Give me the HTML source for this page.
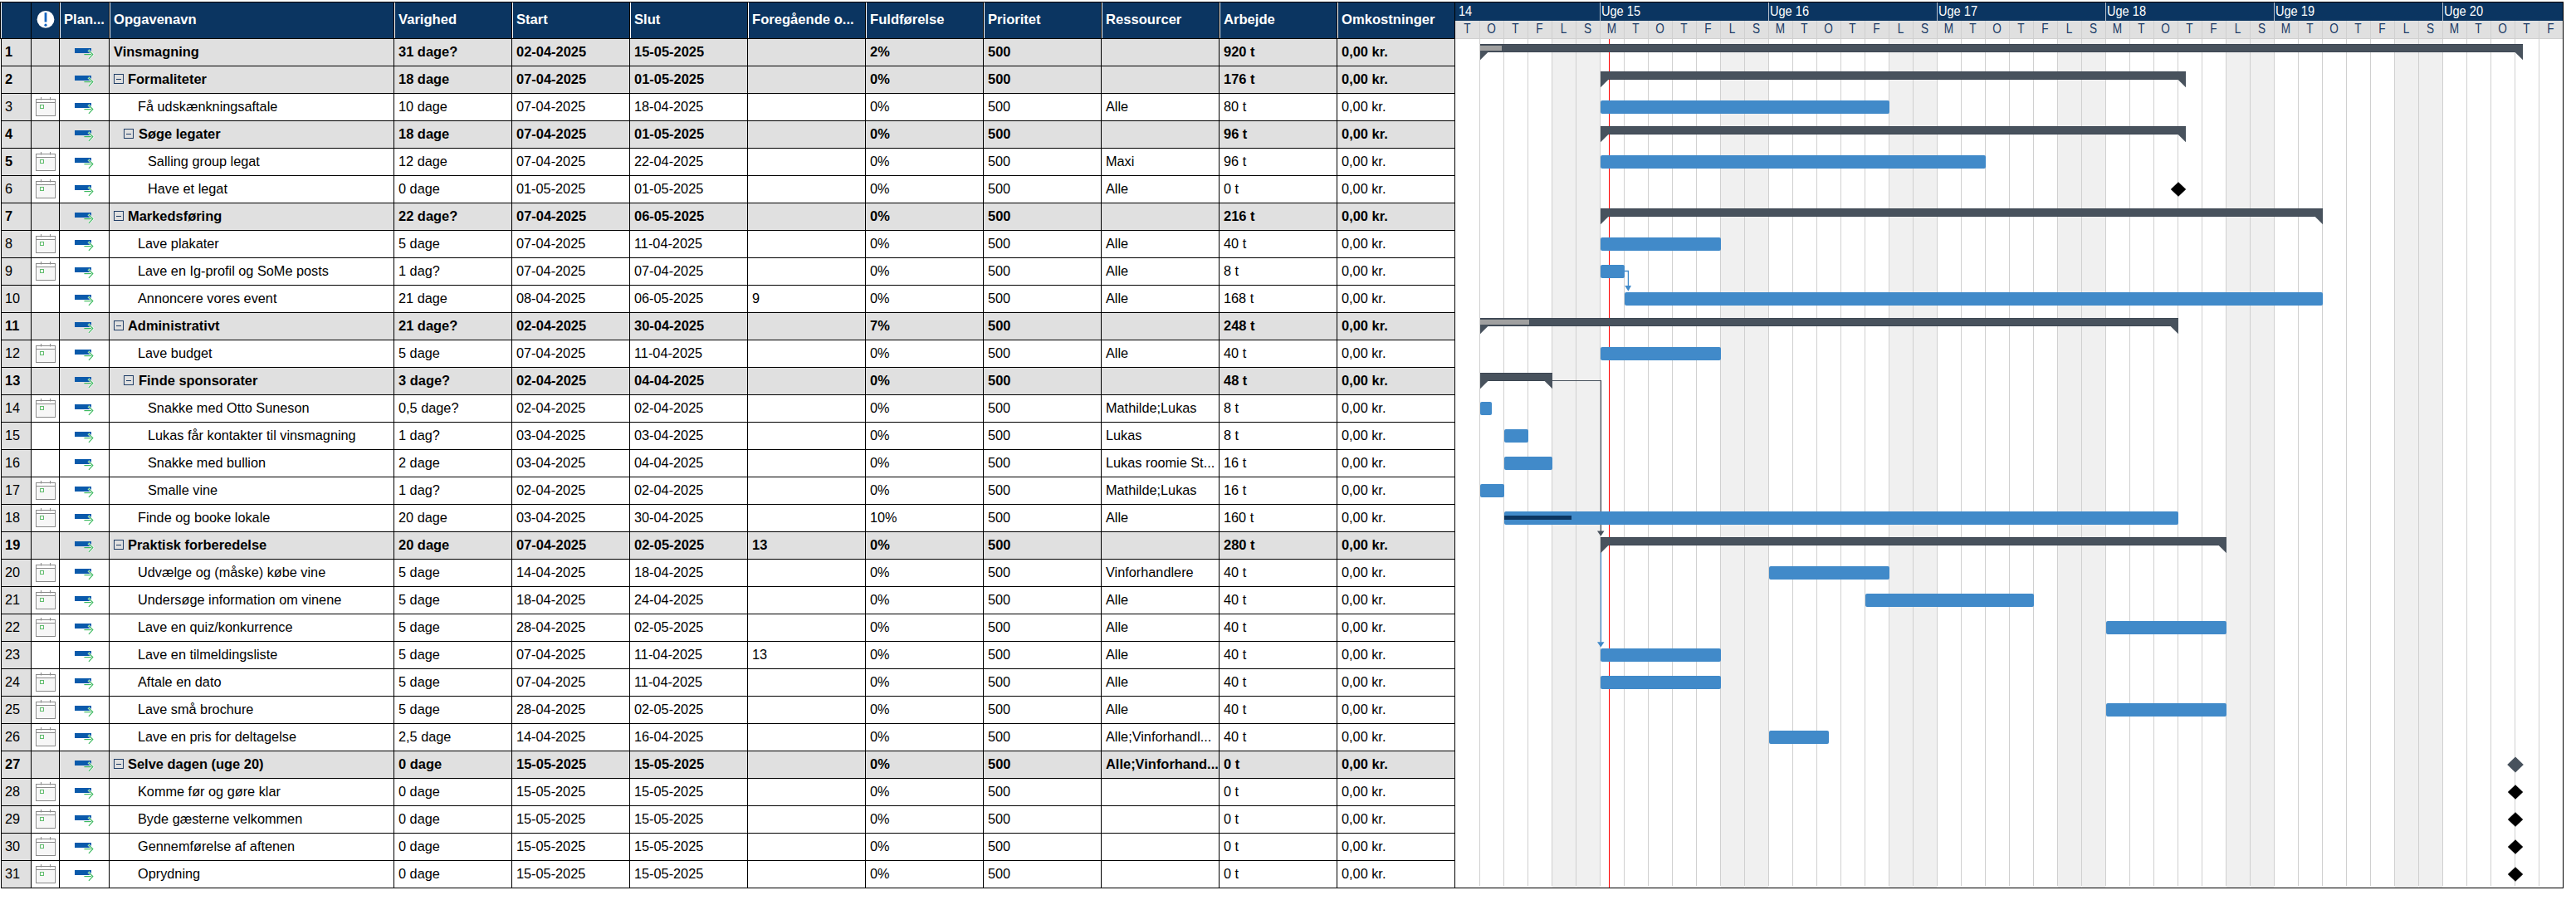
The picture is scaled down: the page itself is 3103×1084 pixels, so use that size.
<!DOCTYPE html>
<html><head><meta charset="utf-8"><style>
html,body{margin:0;padding:0;background:#fff;}
body{width:3103px;height:1084px;position:relative;overflow:hidden;font-family:"Liberation Sans",sans-serif;}
div{position:absolute;box-sizing:content-box;}
.t{position:absolute;white-space:pre;font-family:"Liberation Sans",sans-serif;}
</style></head><body>
<div style="left:0px;top:2px;width:3088px;height:1px;background:#000;"></div>
<div style="left:0px;top:3px;width:1752px;height:43px;background:#0b3561;"></div>
<div style="left:0px;top:3px;width:1px;height:43px;background:#000;"></div>
<div style="left:1px;top:3px;width:1px;height:43px;background:#fff;"></div>
<div style="left:37px;top:3px;width:1px;height:43px;background:#000;"></div>
<div style="left:71px;top:3px;width:1px;height:43px;background:#000;"></div>
<div style="left:72px;top:3px;width:1px;height:43px;background:#fff;"></div>
<div style="left:131px;top:3px;width:1px;height:43px;background:#000;"></div>
<div style="left:132px;top:3px;width:1px;height:43px;background:#fff;"></div>
<div style="left:474px;top:3px;width:1px;height:43px;background:#000;"></div>
<div style="left:475px;top:3px;width:1px;height:43px;background:#fff;"></div>
<div style="left:616px;top:3px;width:1px;height:43px;background:#000;"></div>
<div style="left:617px;top:3px;width:1px;height:43px;background:#fff;"></div>
<div style="left:758px;top:3px;width:1px;height:43px;background:#000;"></div>
<div style="left:759px;top:3px;width:1px;height:43px;background:#fff;"></div>
<div style="left:900px;top:3px;width:1px;height:43px;background:#000;"></div>
<div style="left:901px;top:3px;width:1px;height:43px;background:#fff;"></div>
<div style="left:1042px;top:3px;width:1px;height:43px;background:#000;"></div>
<div style="left:1043px;top:3px;width:1px;height:43px;background:#fff;"></div>
<div style="left:1184px;top:3px;width:1px;height:43px;background:#000;"></div>
<div style="left:1185px;top:3px;width:1px;height:43px;background:#fff;"></div>
<div style="left:1326px;top:3px;width:1px;height:43px;background:#000;"></div>
<div style="left:1327px;top:3px;width:1px;height:43px;background:#fff;"></div>
<div style="left:1468px;top:3px;width:1px;height:43px;background:#000;"></div>
<div style="left:1469px;top:3px;width:1px;height:43px;background:#fff;"></div>
<div style="left:1610px;top:3px;width:1px;height:43px;background:#000;"></div>
<div style="left:1611px;top:3px;width:1px;height:43px;background:#fff;"></div>
<div style="left:1752px;top:3px;width:1px;height:43px;background:#000;"></div>
<div style="left:0px;top:46px;width:1753px;height:1px;background:#000;"></div>
<span class="t" style="left:77px;top:0px;font-size:16.6px;font-weight:bold;color:#fff;top:2px;height:43px;line-height:43px;">Plan...</span>
<span class="t" style="left:137px;top:0px;font-size:16.6px;font-weight:bold;color:#fff;top:2px;height:43px;line-height:43px;">Opgavenavn</span>
<span class="t" style="left:480px;top:0px;font-size:16.6px;font-weight:bold;color:#fff;top:2px;height:43px;line-height:43px;">Varighed</span>
<span class="t" style="left:622px;top:0px;font-size:16.6px;font-weight:bold;color:#fff;top:2px;height:43px;line-height:43px;">Start</span>
<span class="t" style="left:764px;top:0px;font-size:16.6px;font-weight:bold;color:#fff;top:2px;height:43px;line-height:43px;">Slut</span>
<span class="t" style="left:906px;top:0px;font-size:16.6px;font-weight:bold;color:#fff;top:2px;height:43px;line-height:43px;">Foregående o...</span>
<span class="t" style="left:1048px;top:0px;font-size:16.6px;font-weight:bold;color:#fff;top:2px;height:43px;line-height:43px;">Fuldførelse</span>
<span class="t" style="left:1190px;top:0px;font-size:16.6px;font-weight:bold;color:#fff;top:2px;height:43px;line-height:43px;">Prioritet</span>
<span class="t" style="left:1332px;top:0px;font-size:16.6px;font-weight:bold;color:#fff;top:2px;height:43px;line-height:43px;">Ressourcer</span>
<span class="t" style="left:1474px;top:0px;font-size:16.6px;font-weight:bold;color:#fff;top:2px;height:43px;line-height:43px;">Arbejde</span>
<span class="t" style="left:1616px;top:0px;font-size:16.6px;font-weight:bold;color:#fff;top:2px;height:43px;line-height:43px;">Omkostninger</span>
<svg style="position:absolute;left:44px;top:12px" width="22" height="23" viewBox="0 0 22 23"><circle cx="11" cy="11.4" r="10.4" fill="#fff"/><rect x="9.6" y="3.2" width="2.8" height="11.3" fill="#1565c0"/><circle cx="11" cy="18.2" r="1.6" fill="#1565c0"/></svg>
<div style="left:1753px;top:3px;width:1334px;height:22px;background:#0b3561;"></div>
<div style="left:1753px;top:25px;width:1334px;height:21px;background:#e0e0e0;"></div>
<div style="left:1753px;top:46px;width:1334px;height:1px;background:#d0d0d0;"></div>
<span class="t" style="left:1757px;top:1.5px;font-size:16.2px;color:#fff;height:22px;line-height:22px;transform:scaleX(0.9);transform-origin:0 0;">14</span>
<div style="left:1927px;top:3px;width:1px;height:22px;background:#b8c0cc;"></div>
<span class="t" style="left:1929px;top:1.5px;font-size:16.2px;color:#fff;height:22px;line-height:22px;transform:scaleX(0.9);transform-origin:0 0;">Uge 15</span>
<div style="left:2130px;top:3px;width:1px;height:22px;background:#b8c0cc;"></div>
<span class="t" style="left:2132px;top:1.5px;font-size:16.2px;color:#fff;height:22px;line-height:22px;transform:scaleX(0.9);transform-origin:0 0;">Uge 16</span>
<div style="left:2333px;top:3px;width:1px;height:22px;background:#b8c0cc;"></div>
<span class="t" style="left:2335px;top:1.5px;font-size:16.2px;color:#fff;height:22px;line-height:22px;transform:scaleX(0.9);transform-origin:0 0;">Uge 17</span>
<div style="left:2536px;top:3px;width:1px;height:22px;background:#b8c0cc;"></div>
<span class="t" style="left:2538px;top:1.5px;font-size:16.2px;color:#fff;height:22px;line-height:22px;transform:scaleX(0.9);transform-origin:0 0;">Uge 18</span>
<div style="left:2739px;top:3px;width:1px;height:22px;background:#b8c0cc;"></div>
<span class="t" style="left:2741px;top:1.5px;font-size:16.2px;color:#fff;height:22px;line-height:22px;transform:scaleX(0.9);transform-origin:0 0;">Uge 19</span>
<div style="left:2942px;top:3px;width:1px;height:22px;background:#b8c0cc;"></div>
<span class="t" style="left:2944px;top:1.5px;font-size:16.2px;color:#fff;height:22px;line-height:22px;transform:scaleX(0.9);transform-origin:0 0;">Uge 20</span>
<span class="t" style="left:1753px;top:24.3px;width:29px;height:21px;line-height:21px;text-align:center;font-size:15.8px;color:#1b3a66;transform:scaleX(0.86)">T</span>
<div style="left:1782px;top:25px;width:1px;height:21px;background:#d0d0d0;"></div>
<span class="t" style="left:1782px;top:24.3px;width:29px;height:21px;line-height:21px;text-align:center;font-size:15.8px;color:#1b3a66;transform:scaleX(0.86)">O</span>
<div style="left:1811px;top:25px;width:1px;height:21px;background:#d0d0d0;"></div>
<span class="t" style="left:1811px;top:24.3px;width:29px;height:21px;line-height:21px;text-align:center;font-size:15.8px;color:#1b3a66;transform:scaleX(0.86)">T</span>
<div style="left:1840px;top:25px;width:1px;height:21px;background:#d0d0d0;"></div>
<span class="t" style="left:1840px;top:24.3px;width:29px;height:21px;line-height:21px;text-align:center;font-size:15.8px;color:#1b3a66;transform:scaleX(0.86)">F</span>
<div style="left:1869px;top:25px;width:1px;height:21px;background:#d0d0d0;"></div>
<span class="t" style="left:1869px;top:24.3px;width:29px;height:21px;line-height:21px;text-align:center;font-size:15.8px;color:#1b3a66;transform:scaleX(0.86)">L</span>
<div style="left:1898px;top:25px;width:1px;height:21px;background:#d0d0d0;"></div>
<span class="t" style="left:1898px;top:24.3px;width:29px;height:21px;line-height:21px;text-align:center;font-size:15.8px;color:#1b3a66;transform:scaleX(0.86)">S</span>
<div style="left:1927px;top:25px;width:1px;height:21px;background:#d0d0d0;"></div>
<span class="t" style="left:1927px;top:24.3px;width:29px;height:21px;line-height:21px;text-align:center;font-size:15.8px;color:#1b3a66;transform:scaleX(0.86)">M</span>
<div style="left:1956px;top:25px;width:1px;height:21px;background:#d0d0d0;"></div>
<span class="t" style="left:1956px;top:24.3px;width:29px;height:21px;line-height:21px;text-align:center;font-size:15.8px;color:#1b3a66;transform:scaleX(0.86)">T</span>
<div style="left:1985px;top:25px;width:1px;height:21px;background:#d0d0d0;"></div>
<span class="t" style="left:1985px;top:24.3px;width:29px;height:21px;line-height:21px;text-align:center;font-size:15.8px;color:#1b3a66;transform:scaleX(0.86)">O</span>
<div style="left:2014px;top:25px;width:1px;height:21px;background:#d0d0d0;"></div>
<span class="t" style="left:2014px;top:24.3px;width:29px;height:21px;line-height:21px;text-align:center;font-size:15.8px;color:#1b3a66;transform:scaleX(0.86)">T</span>
<div style="left:2043px;top:25px;width:1px;height:21px;background:#d0d0d0;"></div>
<span class="t" style="left:2043px;top:24.3px;width:29px;height:21px;line-height:21px;text-align:center;font-size:15.8px;color:#1b3a66;transform:scaleX(0.86)">F</span>
<div style="left:2072px;top:25px;width:1px;height:21px;background:#d0d0d0;"></div>
<span class="t" style="left:2072px;top:24.3px;width:29px;height:21px;line-height:21px;text-align:center;font-size:15.8px;color:#1b3a66;transform:scaleX(0.86)">L</span>
<div style="left:2101px;top:25px;width:1px;height:21px;background:#d0d0d0;"></div>
<span class="t" style="left:2101px;top:24.3px;width:29px;height:21px;line-height:21px;text-align:center;font-size:15.8px;color:#1b3a66;transform:scaleX(0.86)">S</span>
<div style="left:2130px;top:25px;width:1px;height:21px;background:#d0d0d0;"></div>
<span class="t" style="left:2130px;top:24.3px;width:29px;height:21px;line-height:21px;text-align:center;font-size:15.8px;color:#1b3a66;transform:scaleX(0.86)">M</span>
<div style="left:2159px;top:25px;width:1px;height:21px;background:#d0d0d0;"></div>
<span class="t" style="left:2159px;top:24.3px;width:29px;height:21px;line-height:21px;text-align:center;font-size:15.8px;color:#1b3a66;transform:scaleX(0.86)">T</span>
<div style="left:2188px;top:25px;width:1px;height:21px;background:#d0d0d0;"></div>
<span class="t" style="left:2188px;top:24.3px;width:29px;height:21px;line-height:21px;text-align:center;font-size:15.8px;color:#1b3a66;transform:scaleX(0.86)">O</span>
<div style="left:2217px;top:25px;width:1px;height:21px;background:#d0d0d0;"></div>
<span class="t" style="left:2217px;top:24.3px;width:29px;height:21px;line-height:21px;text-align:center;font-size:15.8px;color:#1b3a66;transform:scaleX(0.86)">T</span>
<div style="left:2246px;top:25px;width:1px;height:21px;background:#d0d0d0;"></div>
<span class="t" style="left:2246px;top:24.3px;width:29px;height:21px;line-height:21px;text-align:center;font-size:15.8px;color:#1b3a66;transform:scaleX(0.86)">F</span>
<div style="left:2275px;top:25px;width:1px;height:21px;background:#d0d0d0;"></div>
<span class="t" style="left:2275px;top:24.3px;width:29px;height:21px;line-height:21px;text-align:center;font-size:15.8px;color:#1b3a66;transform:scaleX(0.86)">L</span>
<div style="left:2304px;top:25px;width:1px;height:21px;background:#d0d0d0;"></div>
<span class="t" style="left:2304px;top:24.3px;width:29px;height:21px;line-height:21px;text-align:center;font-size:15.8px;color:#1b3a66;transform:scaleX(0.86)">S</span>
<div style="left:2333px;top:25px;width:1px;height:21px;background:#d0d0d0;"></div>
<span class="t" style="left:2333px;top:24.3px;width:29px;height:21px;line-height:21px;text-align:center;font-size:15.8px;color:#1b3a66;transform:scaleX(0.86)">M</span>
<div style="left:2362px;top:25px;width:1px;height:21px;background:#d0d0d0;"></div>
<span class="t" style="left:2362px;top:24.3px;width:29px;height:21px;line-height:21px;text-align:center;font-size:15.8px;color:#1b3a66;transform:scaleX(0.86)">T</span>
<div style="left:2391px;top:25px;width:1px;height:21px;background:#d0d0d0;"></div>
<span class="t" style="left:2391px;top:24.3px;width:29px;height:21px;line-height:21px;text-align:center;font-size:15.8px;color:#1b3a66;transform:scaleX(0.86)">O</span>
<div style="left:2420px;top:25px;width:1px;height:21px;background:#d0d0d0;"></div>
<span class="t" style="left:2420px;top:24.3px;width:29px;height:21px;line-height:21px;text-align:center;font-size:15.8px;color:#1b3a66;transform:scaleX(0.86)">T</span>
<div style="left:2449px;top:25px;width:1px;height:21px;background:#d0d0d0;"></div>
<span class="t" style="left:2449px;top:24.3px;width:29px;height:21px;line-height:21px;text-align:center;font-size:15.8px;color:#1b3a66;transform:scaleX(0.86)">F</span>
<div style="left:2478px;top:25px;width:1px;height:21px;background:#d0d0d0;"></div>
<span class="t" style="left:2478px;top:24.3px;width:29px;height:21px;line-height:21px;text-align:center;font-size:15.8px;color:#1b3a66;transform:scaleX(0.86)">L</span>
<div style="left:2507px;top:25px;width:1px;height:21px;background:#d0d0d0;"></div>
<span class="t" style="left:2507px;top:24.3px;width:29px;height:21px;line-height:21px;text-align:center;font-size:15.8px;color:#1b3a66;transform:scaleX(0.86)">S</span>
<div style="left:2536px;top:25px;width:1px;height:21px;background:#d0d0d0;"></div>
<span class="t" style="left:2536px;top:24.3px;width:29px;height:21px;line-height:21px;text-align:center;font-size:15.8px;color:#1b3a66;transform:scaleX(0.86)">M</span>
<div style="left:2565px;top:25px;width:1px;height:21px;background:#d0d0d0;"></div>
<span class="t" style="left:2565px;top:24.3px;width:29px;height:21px;line-height:21px;text-align:center;font-size:15.8px;color:#1b3a66;transform:scaleX(0.86)">T</span>
<div style="left:2594px;top:25px;width:1px;height:21px;background:#d0d0d0;"></div>
<span class="t" style="left:2594px;top:24.3px;width:29px;height:21px;line-height:21px;text-align:center;font-size:15.8px;color:#1b3a66;transform:scaleX(0.86)">O</span>
<div style="left:2623px;top:25px;width:1px;height:21px;background:#d0d0d0;"></div>
<span class="t" style="left:2623px;top:24.3px;width:29px;height:21px;line-height:21px;text-align:center;font-size:15.8px;color:#1b3a66;transform:scaleX(0.86)">T</span>
<div style="left:2652px;top:25px;width:1px;height:21px;background:#d0d0d0;"></div>
<span class="t" style="left:2652px;top:24.3px;width:29px;height:21px;line-height:21px;text-align:center;font-size:15.8px;color:#1b3a66;transform:scaleX(0.86)">F</span>
<div style="left:2681px;top:25px;width:1px;height:21px;background:#d0d0d0;"></div>
<span class="t" style="left:2681px;top:24.3px;width:29px;height:21px;line-height:21px;text-align:center;font-size:15.8px;color:#1b3a66;transform:scaleX(0.86)">L</span>
<div style="left:2710px;top:25px;width:1px;height:21px;background:#d0d0d0;"></div>
<span class="t" style="left:2710px;top:24.3px;width:29px;height:21px;line-height:21px;text-align:center;font-size:15.8px;color:#1b3a66;transform:scaleX(0.86)">S</span>
<div style="left:2739px;top:25px;width:1px;height:21px;background:#d0d0d0;"></div>
<span class="t" style="left:2739px;top:24.3px;width:29px;height:21px;line-height:21px;text-align:center;font-size:15.8px;color:#1b3a66;transform:scaleX(0.86)">M</span>
<div style="left:2768px;top:25px;width:1px;height:21px;background:#d0d0d0;"></div>
<span class="t" style="left:2768px;top:24.3px;width:29px;height:21px;line-height:21px;text-align:center;font-size:15.8px;color:#1b3a66;transform:scaleX(0.86)">T</span>
<div style="left:2797px;top:25px;width:1px;height:21px;background:#d0d0d0;"></div>
<span class="t" style="left:2797px;top:24.3px;width:29px;height:21px;line-height:21px;text-align:center;font-size:15.8px;color:#1b3a66;transform:scaleX(0.86)">O</span>
<div style="left:2826px;top:25px;width:1px;height:21px;background:#d0d0d0;"></div>
<span class="t" style="left:2826px;top:24.3px;width:29px;height:21px;line-height:21px;text-align:center;font-size:15.8px;color:#1b3a66;transform:scaleX(0.86)">T</span>
<div style="left:2855px;top:25px;width:1px;height:21px;background:#d0d0d0;"></div>
<span class="t" style="left:2855px;top:24.3px;width:29px;height:21px;line-height:21px;text-align:center;font-size:15.8px;color:#1b3a66;transform:scaleX(0.86)">F</span>
<div style="left:2884px;top:25px;width:1px;height:21px;background:#d0d0d0;"></div>
<span class="t" style="left:2884px;top:24.3px;width:29px;height:21px;line-height:21px;text-align:center;font-size:15.8px;color:#1b3a66;transform:scaleX(0.86)">L</span>
<div style="left:2913px;top:25px;width:1px;height:21px;background:#d0d0d0;"></div>
<span class="t" style="left:2913px;top:24.3px;width:29px;height:21px;line-height:21px;text-align:center;font-size:15.8px;color:#1b3a66;transform:scaleX(0.86)">S</span>
<div style="left:2942px;top:25px;width:1px;height:21px;background:#d0d0d0;"></div>
<span class="t" style="left:2942px;top:24.3px;width:29px;height:21px;line-height:21px;text-align:center;font-size:15.8px;color:#1b3a66;transform:scaleX(0.86)">M</span>
<div style="left:2971px;top:25px;width:1px;height:21px;background:#d0d0d0;"></div>
<span class="t" style="left:2971px;top:24.3px;width:29px;height:21px;line-height:21px;text-align:center;font-size:15.8px;color:#1b3a66;transform:scaleX(0.86)">T</span>
<div style="left:3000px;top:25px;width:1px;height:21px;background:#d0d0d0;"></div>
<span class="t" style="left:3000px;top:24.3px;width:29px;height:21px;line-height:21px;text-align:center;font-size:15.8px;color:#1b3a66;transform:scaleX(0.86)">O</span>
<div style="left:3029px;top:25px;width:1px;height:21px;background:#d0d0d0;"></div>
<span class="t" style="left:3029px;top:24.3px;width:29px;height:21px;line-height:21px;text-align:center;font-size:15.8px;color:#1b3a66;transform:scaleX(0.86)">T</span>
<div style="left:3058px;top:25px;width:1px;height:21px;background:#d0d0d0;"></div>
<span class="t" style="left:3058px;top:24.3px;width:29px;height:21px;line-height:21px;text-align:center;font-size:15.8px;color:#1b3a66;transform:scaleX(0.86)">F</span>
<div style="left:2px;top:47px;width:35px;height:32px;background:#e0e0e0;"></div>
<div style="left:38px;top:47px;width:1714px;height:32px;background:#e0e0e0;"></div>
<div style="left:2px;top:80px;width:35px;height:32px;background:#e0e0e0;"></div>
<div style="left:38px;top:80px;width:1714px;height:32px;background:#e0e0e0;"></div>
<div style="left:2px;top:113px;width:35px;height:32px;background:#e0e0e0;"></div>
<div style="left:2px;top:146px;width:35px;height:32px;background:#e0e0e0;"></div>
<div style="left:38px;top:146px;width:1714px;height:32px;background:#e0e0e0;"></div>
<div style="left:2px;top:179px;width:35px;height:32px;background:#e0e0e0;"></div>
<div style="left:2px;top:212px;width:35px;height:32px;background:#e0e0e0;"></div>
<div style="left:2px;top:245px;width:35px;height:32px;background:#e0e0e0;"></div>
<div style="left:38px;top:245px;width:1714px;height:32px;background:#e0e0e0;"></div>
<div style="left:2px;top:278px;width:35px;height:32px;background:#e0e0e0;"></div>
<div style="left:2px;top:311px;width:35px;height:32px;background:#e0e0e0;"></div>
<div style="left:2px;top:344px;width:35px;height:32px;background:#e0e0e0;"></div>
<div style="left:2px;top:377px;width:35px;height:32px;background:#e0e0e0;"></div>
<div style="left:38px;top:377px;width:1714px;height:32px;background:#e0e0e0;"></div>
<div style="left:2px;top:410px;width:35px;height:32px;background:#e0e0e0;"></div>
<div style="left:2px;top:443px;width:35px;height:32px;background:#e0e0e0;"></div>
<div style="left:38px;top:443px;width:1714px;height:32px;background:#e0e0e0;"></div>
<div style="left:2px;top:476px;width:35px;height:32px;background:#e0e0e0;"></div>
<div style="left:2px;top:509px;width:35px;height:32px;background:#e0e0e0;"></div>
<div style="left:2px;top:542px;width:35px;height:32px;background:#e0e0e0;"></div>
<div style="left:2px;top:575px;width:35px;height:32px;background:#e0e0e0;"></div>
<div style="left:2px;top:608px;width:35px;height:32px;background:#e0e0e0;"></div>
<div style="left:2px;top:641px;width:35px;height:32px;background:#e0e0e0;"></div>
<div style="left:38px;top:641px;width:1714px;height:32px;background:#e0e0e0;"></div>
<div style="left:2px;top:674px;width:35px;height:32px;background:#e0e0e0;"></div>
<div style="left:2px;top:707px;width:35px;height:32px;background:#e0e0e0;"></div>
<div style="left:2px;top:740px;width:35px;height:32px;background:#e0e0e0;"></div>
<div style="left:2px;top:773px;width:35px;height:32px;background:#e0e0e0;"></div>
<div style="left:2px;top:806px;width:35px;height:32px;background:#e0e0e0;"></div>
<div style="left:2px;top:839px;width:35px;height:32px;background:#e0e0e0;"></div>
<div style="left:2px;top:872px;width:35px;height:32px;background:#e0e0e0;"></div>
<div style="left:2px;top:905px;width:35px;height:32px;background:#e0e0e0;"></div>
<div style="left:38px;top:905px;width:1714px;height:32px;background:#e0e0e0;"></div>
<div style="left:2px;top:938px;width:35px;height:32px;background:#e0e0e0;"></div>
<div style="left:2px;top:971px;width:35px;height:32px;background:#e0e0e0;"></div>
<div style="left:2px;top:1004px;width:35px;height:32px;background:#e0e0e0;"></div>
<div style="left:2px;top:1037px;width:35px;height:32px;background:#e0e0e0;"></div>
<div style="left:1870px;top:47px;width:28px;height:1022px;background:#f0f0f0;"></div>
<div style="left:1899px;top:47px;width:28px;height:1022px;background:#f0f0f0;"></div>
<div style="left:2073px;top:47px;width:28px;height:1022px;background:#f0f0f0;"></div>
<div style="left:2102px;top:47px;width:28px;height:1022px;background:#f0f0f0;"></div>
<div style="left:2276px;top:47px;width:28px;height:1022px;background:#f0f0f0;"></div>
<div style="left:2305px;top:47px;width:28px;height:1022px;background:#f0f0f0;"></div>
<div style="left:2479px;top:47px;width:28px;height:1022px;background:#f0f0f0;"></div>
<div style="left:2508px;top:47px;width:28px;height:1022px;background:#f0f0f0;"></div>
<div style="left:2682px;top:47px;width:28px;height:1022px;background:#f0f0f0;"></div>
<div style="left:2711px;top:47px;width:28px;height:1022px;background:#f0f0f0;"></div>
<div style="left:2885px;top:47px;width:28px;height:1022px;background:#f0f0f0;"></div>
<div style="left:2914px;top:47px;width:28px;height:1022px;background:#f0f0f0;"></div>
<div style="left:1782px;top:47px;width:1px;height:1020px;background:#d0d0d0;"></div>
<div style="left:1811px;top:47px;width:1px;height:1020px;background:#d0d0d0;"></div>
<div style="left:1840px;top:47px;width:1px;height:1020px;background:#d0d0d0;"></div>
<div style="left:1869px;top:47px;width:1px;height:1020px;background:#d0d0d0;"></div>
<div style="left:1898px;top:47px;width:1px;height:1020px;background:#d0d0d0;"></div>
<div style="left:1927px;top:47px;width:1px;height:1020px;background:#d0d0d0;"></div>
<div style="left:1956px;top:47px;width:1px;height:1020px;background:#d0d0d0;"></div>
<div style="left:1985px;top:47px;width:1px;height:1020px;background:#d0d0d0;"></div>
<div style="left:2014px;top:47px;width:1px;height:1020px;background:#d0d0d0;"></div>
<div style="left:2043px;top:47px;width:1px;height:1020px;background:#d0d0d0;"></div>
<div style="left:2072px;top:47px;width:1px;height:1020px;background:#d0d0d0;"></div>
<div style="left:2101px;top:47px;width:1px;height:1020px;background:#d0d0d0;"></div>
<div style="left:2130px;top:47px;width:1px;height:1020px;background:#d0d0d0;"></div>
<div style="left:2159px;top:47px;width:1px;height:1020px;background:#d0d0d0;"></div>
<div style="left:2188px;top:47px;width:1px;height:1020px;background:#d0d0d0;"></div>
<div style="left:2217px;top:47px;width:1px;height:1020px;background:#d0d0d0;"></div>
<div style="left:2246px;top:47px;width:1px;height:1020px;background:#d0d0d0;"></div>
<div style="left:2275px;top:47px;width:1px;height:1020px;background:#d0d0d0;"></div>
<div style="left:2304px;top:47px;width:1px;height:1020px;background:#d0d0d0;"></div>
<div style="left:2333px;top:47px;width:1px;height:1020px;background:#d0d0d0;"></div>
<div style="left:2362px;top:47px;width:1px;height:1020px;background:#d0d0d0;"></div>
<div style="left:2391px;top:47px;width:1px;height:1020px;background:#d0d0d0;"></div>
<div style="left:2420px;top:47px;width:1px;height:1020px;background:#d0d0d0;"></div>
<div style="left:2449px;top:47px;width:1px;height:1020px;background:#d0d0d0;"></div>
<div style="left:2478px;top:47px;width:1px;height:1020px;background:#d0d0d0;"></div>
<div style="left:2507px;top:47px;width:1px;height:1020px;background:#d0d0d0;"></div>
<div style="left:2536px;top:47px;width:1px;height:1020px;background:#d0d0d0;"></div>
<div style="left:2565px;top:47px;width:1px;height:1020px;background:#d0d0d0;"></div>
<div style="left:2594px;top:47px;width:1px;height:1020px;background:#d0d0d0;"></div>
<div style="left:2623px;top:47px;width:1px;height:1020px;background:#d0d0d0;"></div>
<div style="left:2652px;top:47px;width:1px;height:1020px;background:#d0d0d0;"></div>
<div style="left:2681px;top:47px;width:1px;height:1020px;background:#d0d0d0;"></div>
<div style="left:2710px;top:47px;width:1px;height:1020px;background:#d0d0d0;"></div>
<div style="left:2739px;top:47px;width:1px;height:1020px;background:#d0d0d0;"></div>
<div style="left:2768px;top:47px;width:1px;height:1020px;background:#d0d0d0;"></div>
<div style="left:2797px;top:47px;width:1px;height:1020px;background:#d0d0d0;"></div>
<div style="left:2826px;top:47px;width:1px;height:1020px;background:#d0d0d0;"></div>
<div style="left:2855px;top:47px;width:1px;height:1020px;background:#d0d0d0;"></div>
<div style="left:2884px;top:47px;width:1px;height:1020px;background:#d0d0d0;"></div>
<div style="left:2913px;top:47px;width:1px;height:1020px;background:#d0d0d0;"></div>
<div style="left:2942px;top:47px;width:1px;height:1020px;background:#d0d0d0;"></div>
<div style="left:2971px;top:47px;width:1px;height:1020px;background:#d0d0d0;"></div>
<div style="left:3000px;top:47px;width:1px;height:1020px;background:#d0d0d0;"></div>
<div style="left:3029px;top:47px;width:1px;height:1020px;background:#d0d0d0;"></div>
<div style="left:3058px;top:47px;width:1px;height:1020px;background:#d0d0d0;"></div>
<div style="left:1px;top:79px;width:1752px;height:1px;background:#000;"></div>
<div style="left:1px;top:112px;width:1752px;height:1px;background:#000;"></div>
<div style="left:1px;top:145px;width:1752px;height:1px;background:#000;"></div>
<div style="left:1px;top:178px;width:1752px;height:1px;background:#000;"></div>
<div style="left:1px;top:211px;width:1752px;height:1px;background:#000;"></div>
<div style="left:1px;top:244px;width:1752px;height:1px;background:#000;"></div>
<div style="left:1px;top:277px;width:1752px;height:1px;background:#000;"></div>
<div style="left:1px;top:310px;width:1752px;height:1px;background:#000;"></div>
<div style="left:1px;top:343px;width:1752px;height:1px;background:#000;"></div>
<div style="left:1px;top:376px;width:1752px;height:1px;background:#000;"></div>
<div style="left:1px;top:409px;width:1752px;height:1px;background:#000;"></div>
<div style="left:1px;top:442px;width:1752px;height:1px;background:#000;"></div>
<div style="left:1px;top:475px;width:1752px;height:1px;background:#000;"></div>
<div style="left:1px;top:508px;width:1752px;height:1px;background:#000;"></div>
<div style="left:1px;top:541px;width:1752px;height:1px;background:#000;"></div>
<div style="left:1px;top:574px;width:1752px;height:1px;background:#000;"></div>
<div style="left:1px;top:607px;width:1752px;height:1px;background:#000;"></div>
<div style="left:1px;top:640px;width:1752px;height:1px;background:#000;"></div>
<div style="left:1px;top:673px;width:1752px;height:1px;background:#000;"></div>
<div style="left:1px;top:706px;width:1752px;height:1px;background:#000;"></div>
<div style="left:1px;top:739px;width:1752px;height:1px;background:#000;"></div>
<div style="left:1px;top:772px;width:1752px;height:1px;background:#000;"></div>
<div style="left:1px;top:805px;width:1752px;height:1px;background:#000;"></div>
<div style="left:1px;top:838px;width:1752px;height:1px;background:#000;"></div>
<div style="left:1px;top:871px;width:1752px;height:1px;background:#000;"></div>
<div style="left:1px;top:904px;width:1752px;height:1px;background:#000;"></div>
<div style="left:1px;top:937px;width:1752px;height:1px;background:#000;"></div>
<div style="left:1px;top:970px;width:1752px;height:1px;background:#000;"></div>
<div style="left:1px;top:1003px;width:1752px;height:1px;background:#000;"></div>
<div style="left:1px;top:1036px;width:1752px;height:1px;background:#000;"></div>
<div style="left:1px;top:1069px;width:1752px;height:1px;background:#000;"></div>
<div style="left:1px;top:47px;width:1px;height:1022px;background:#000;"></div>
<div style="left:37px;top:47px;width:1px;height:1022px;background:#000;"></div>
<div style="left:71px;top:47px;width:1px;height:1022px;background:#000;"></div>
<div style="left:131px;top:47px;width:1px;height:1022px;background:#000;"></div>
<div style="left:474px;top:47px;width:1px;height:1022px;background:#000;"></div>
<div style="left:616px;top:47px;width:1px;height:1022px;background:#000;"></div>
<div style="left:758px;top:47px;width:1px;height:1022px;background:#000;"></div>
<div style="left:900px;top:47px;width:1px;height:1022px;background:#000;"></div>
<div style="left:1042px;top:47px;width:1px;height:1022px;background:#000;"></div>
<div style="left:1184px;top:47px;width:1px;height:1022px;background:#000;"></div>
<div style="left:1326px;top:47px;width:1px;height:1022px;background:#000;"></div>
<div style="left:1468px;top:47px;width:1px;height:1022px;background:#000;"></div>
<div style="left:1610px;top:47px;width:1px;height:1022px;background:#000;"></div>
<div style="left:1752px;top:47px;width:1px;height:1022px;background:#000;"></div>
<div style="left:1px;top:1069px;width:3087px;height:1px;background:#000;"></div>
<div style="left:3087px;top:2px;width:1px;height:1068px;background:#000;"></div>
<span class="t" style="left:6px;top:46px;font-size:16.45px;font-weight:bold;color:#000;height:32px;line-height:32px;">1</span>
<svg style="position:absolute;left:88px;top:47px" width="28" height="32" viewBox="88 0 28 32"><rect x="90" y="11" width="20" height="6" fill="#0a5aab"/><path d="M101.4 18.6H112" stroke="#3dba5f" stroke-width="1.15" fill="none"/><path d="M106.4 13.3L111.8 18.6L106.9 23.8" stroke="#fff" stroke-width="2.6" fill="none" opacity=".8"/><path d="M106.4 13.3L111.8 18.6L106.9 23.8" stroke="#3dba5f" stroke-width="1.15" fill="none"/></svg>
<span class="t" style="left:137px;top:46px;font-size:16.45px;font-weight:bold;color:#000;height:32px;line-height:32px;">Vinsmagning</span>
<span class="t" style="left:480px;top:46px;font-size:16.45px;font-weight:bold;color:#000;height:32px;line-height:32px;">31 dage?</span>
<span class="t" style="left:622px;top:46px;font-size:16.45px;font-weight:bold;color:#000;height:32px;line-height:32px;">02-04-2025</span>
<span class="t" style="left:764px;top:46px;font-size:16.45px;font-weight:bold;color:#000;height:32px;line-height:32px;">15-05-2025</span>
<span class="t" style="left:1048px;top:46px;font-size:16.45px;font-weight:bold;color:#000;height:32px;line-height:32px;">2%</span>
<span class="t" style="left:1190px;top:46px;font-size:16.45px;font-weight:bold;color:#000;height:32px;line-height:32px;">500</span>
<span class="t" style="left:1474px;top:46px;font-size:16.45px;font-weight:bold;color:#000;height:32px;line-height:32px;">920 t</span>
<span class="t" style="left:1616px;top:46px;font-size:16.45px;font-weight:bold;color:#000;height:32px;line-height:32px;">0,00 kr.</span>
<span class="t" style="left:6px;top:79px;font-size:16.45px;font-weight:bold;color:#000;height:32px;line-height:32px;">2</span>
<svg style="position:absolute;left:88px;top:80px" width="28" height="32" viewBox="88 0 28 32"><rect x="90" y="11" width="20" height="6" fill="#0a5aab"/><path d="M101.4 18.6H112" stroke="#3dba5f" stroke-width="1.15" fill="none"/><path d="M106.4 13.3L111.8 18.6L106.9 23.8" stroke="#fff" stroke-width="2.6" fill="none" opacity=".8"/><path d="M106.4 13.3L111.8 18.6L106.9 23.8" stroke="#3dba5f" stroke-width="1.15" fill="none"/></svg>
<div style="left:137px;top:89px;width:10px;height:10px;border:1px solid #1f3d66;"></div>
<div style="left:140px;top:95px;width:6px;height:1px;background:#1f3d66;"></div>
<span class="t" style="left:154px;top:79px;font-size:16.45px;font-weight:bold;color:#000;height:32px;line-height:32px;">Formaliteter</span>
<span class="t" style="left:480px;top:79px;font-size:16.45px;font-weight:bold;color:#000;height:32px;line-height:32px;">18 dage</span>
<span class="t" style="left:622px;top:79px;font-size:16.45px;font-weight:bold;color:#000;height:32px;line-height:32px;">07-04-2025</span>
<span class="t" style="left:764px;top:79px;font-size:16.45px;font-weight:bold;color:#000;height:32px;line-height:32px;">01-05-2025</span>
<span class="t" style="left:1048px;top:79px;font-size:16.45px;font-weight:bold;color:#000;height:32px;line-height:32px;">0%</span>
<span class="t" style="left:1190px;top:79px;font-size:16.45px;font-weight:bold;color:#000;height:32px;line-height:32px;">500</span>
<span class="t" style="left:1474px;top:79px;font-size:16.45px;font-weight:bold;color:#000;height:32px;line-height:32px;">176 t</span>
<span class="t" style="left:1616px;top:79px;font-size:16.45px;font-weight:bold;color:#000;height:32px;line-height:32px;">0,00 kr.</span>
<span class="t" style="left:6px;top:112px;font-size:16.3px;color:#000;height:32px;line-height:32px;">3</span>
<svg style="position:absolute;left:88px;top:113px" width="28" height="32" viewBox="88 0 28 32"><rect x="90" y="11" width="20" height="6" fill="#0a5aab"/><path d="M101.4 18.6H112" stroke="#3dba5f" stroke-width="1.15" fill="none"/><path d="M106.4 13.3L111.8 18.6L106.9 23.8" stroke="#fff" stroke-width="2.6" fill="none" opacity=".8"/><path d="M106.4 13.3L111.8 18.6L106.9 23.8" stroke="#3dba5f" stroke-width="1.15" fill="none"/></svg>
<svg style="position:absolute;left:42px;top:113px" width="26" height="30" viewBox="42 0 26 30"><rect x="45" y="11" width="20" height="15" fill="#f7f7f7"/><rect x="43.5" y="6.5" width="23" height="20" fill="none" stroke="#8a8a8a" stroke-width="1"/><path d="M43.5 10.5H66.5M49.5 4V7.5M60.5 4V7.5" stroke="#8a8a8a" stroke-width="1" fill="none"/><rect x="48.5" y="13.5" width="4" height="4" fill="none" stroke="#62bd6e" stroke-width="1"/></svg>
<span class="t" style="left:166px;top:112px;font-size:16.3px;color:#000;height:32px;line-height:32px;">Få udskænkningsaftale</span>
<span class="t" style="left:480px;top:112px;font-size:16.3px;color:#000;height:32px;line-height:32px;">10 dage</span>
<span class="t" style="left:622px;top:112px;font-size:16.3px;color:#000;height:32px;line-height:32px;">07-04-2025</span>
<span class="t" style="left:764px;top:112px;font-size:16.3px;color:#000;height:32px;line-height:32px;">18-04-2025</span>
<span class="t" style="left:1048px;top:112px;font-size:16.3px;color:#000;height:32px;line-height:32px;">0%</span>
<span class="t" style="left:1190px;top:112px;font-size:16.3px;color:#000;height:32px;line-height:32px;">500</span>
<span class="t" style="left:1332px;top:112px;font-size:16.3px;color:#000;height:32px;line-height:32px;">Alle</span>
<span class="t" style="left:1474px;top:112px;font-size:16.3px;color:#000;height:32px;line-height:32px;">80 t</span>
<span class="t" style="left:1616px;top:112px;font-size:16.3px;color:#000;height:32px;line-height:32px;">0,00 kr.</span>
<span class="t" style="left:6px;top:145px;font-size:16.45px;font-weight:bold;color:#000;height:32px;line-height:32px;">4</span>
<svg style="position:absolute;left:88px;top:146px" width="28" height="32" viewBox="88 0 28 32"><rect x="90" y="11" width="20" height="6" fill="#0a5aab"/><path d="M101.4 18.6H112" stroke="#3dba5f" stroke-width="1.15" fill="none"/><path d="M106.4 13.3L111.8 18.6L106.9 23.8" stroke="#fff" stroke-width="2.6" fill="none" opacity=".8"/><path d="M106.4 13.3L111.8 18.6L106.9 23.8" stroke="#3dba5f" stroke-width="1.15" fill="none"/></svg>
<div style="left:149px;top:155px;width:10px;height:10px;border:1px solid #1f3d66;"></div>
<div style="left:152px;top:161px;width:6px;height:1px;background:#1f3d66;"></div>
<span class="t" style="left:167px;top:145px;font-size:16.45px;font-weight:bold;color:#000;height:32px;line-height:32px;">Søge legater</span>
<span class="t" style="left:480px;top:145px;font-size:16.45px;font-weight:bold;color:#000;height:32px;line-height:32px;">18 dage</span>
<span class="t" style="left:622px;top:145px;font-size:16.45px;font-weight:bold;color:#000;height:32px;line-height:32px;">07-04-2025</span>
<span class="t" style="left:764px;top:145px;font-size:16.45px;font-weight:bold;color:#000;height:32px;line-height:32px;">01-05-2025</span>
<span class="t" style="left:1048px;top:145px;font-size:16.45px;font-weight:bold;color:#000;height:32px;line-height:32px;">0%</span>
<span class="t" style="left:1190px;top:145px;font-size:16.45px;font-weight:bold;color:#000;height:32px;line-height:32px;">500</span>
<span class="t" style="left:1474px;top:145px;font-size:16.45px;font-weight:bold;color:#000;height:32px;line-height:32px;">96 t</span>
<span class="t" style="left:1616px;top:145px;font-size:16.45px;font-weight:bold;color:#000;height:32px;line-height:32px;">0,00 kr.</span>
<span class="t" style="left:6px;top:178px;font-size:16.45px;font-weight:bold;color:#000;height:32px;line-height:32px;">5</span>
<svg style="position:absolute;left:88px;top:179px" width="28" height="32" viewBox="88 0 28 32"><rect x="90" y="11" width="20" height="6" fill="#0a5aab"/><path d="M101.4 18.6H112" stroke="#3dba5f" stroke-width="1.15" fill="none"/><path d="M106.4 13.3L111.8 18.6L106.9 23.8" stroke="#fff" stroke-width="2.6" fill="none" opacity=".8"/><path d="M106.4 13.3L111.8 18.6L106.9 23.8" stroke="#3dba5f" stroke-width="1.15" fill="none"/></svg>
<svg style="position:absolute;left:42px;top:179px" width="26" height="30" viewBox="42 0 26 30"><rect x="45" y="11" width="20" height="15" fill="#f7f7f7"/><rect x="43.5" y="6.5" width="23" height="20" fill="none" stroke="#8a8a8a" stroke-width="1"/><path d="M43.5 10.5H66.5M49.5 4V7.5M60.5 4V7.5" stroke="#8a8a8a" stroke-width="1" fill="none"/><rect x="48.5" y="13.5" width="4" height="4" fill="none" stroke="#62bd6e" stroke-width="1"/></svg>
<span class="t" style="left:178px;top:178px;font-size:16.3px;color:#000;height:32px;line-height:32px;">Salling group legat</span>
<span class="t" style="left:480px;top:178px;font-size:16.3px;color:#000;height:32px;line-height:32px;">12 dage</span>
<span class="t" style="left:622px;top:178px;font-size:16.3px;color:#000;height:32px;line-height:32px;">07-04-2025</span>
<span class="t" style="left:764px;top:178px;font-size:16.3px;color:#000;height:32px;line-height:32px;">22-04-2025</span>
<span class="t" style="left:1048px;top:178px;font-size:16.3px;color:#000;height:32px;line-height:32px;">0%</span>
<span class="t" style="left:1190px;top:178px;font-size:16.3px;color:#000;height:32px;line-height:32px;">500</span>
<span class="t" style="left:1332px;top:178px;font-size:16.3px;color:#000;height:32px;line-height:32px;">Maxi</span>
<span class="t" style="left:1474px;top:178px;font-size:16.3px;color:#000;height:32px;line-height:32px;">96 t</span>
<span class="t" style="left:1616px;top:178px;font-size:16.3px;color:#000;height:32px;line-height:32px;">0,00 kr.</span>
<span class="t" style="left:6px;top:211px;font-size:16.3px;color:#000;height:32px;line-height:32px;">6</span>
<svg style="position:absolute;left:88px;top:212px" width="28" height="32" viewBox="88 0 28 32"><rect x="90" y="11" width="20" height="6" fill="#0a5aab"/><path d="M101.4 18.6H112" stroke="#3dba5f" stroke-width="1.15" fill="none"/><path d="M106.4 13.3L111.8 18.6L106.9 23.8" stroke="#fff" stroke-width="2.6" fill="none" opacity=".8"/><path d="M106.4 13.3L111.8 18.6L106.9 23.8" stroke="#3dba5f" stroke-width="1.15" fill="none"/></svg>
<svg style="position:absolute;left:42px;top:212px" width="26" height="30" viewBox="42 0 26 30"><rect x="45" y="11" width="20" height="15" fill="#f7f7f7"/><rect x="43.5" y="6.5" width="23" height="20" fill="none" stroke="#8a8a8a" stroke-width="1"/><path d="M43.5 10.5H66.5M49.5 4V7.5M60.5 4V7.5" stroke="#8a8a8a" stroke-width="1" fill="none"/><rect x="48.5" y="13.5" width="4" height="4" fill="none" stroke="#62bd6e" stroke-width="1"/></svg>
<span class="t" style="left:178px;top:211px;font-size:16.3px;color:#000;height:32px;line-height:32px;">Have et legat</span>
<span class="t" style="left:480px;top:211px;font-size:16.3px;color:#000;height:32px;line-height:32px;">0 dage</span>
<span class="t" style="left:622px;top:211px;font-size:16.3px;color:#000;height:32px;line-height:32px;">01-05-2025</span>
<span class="t" style="left:764px;top:211px;font-size:16.3px;color:#000;height:32px;line-height:32px;">01-05-2025</span>
<span class="t" style="left:1048px;top:211px;font-size:16.3px;color:#000;height:32px;line-height:32px;">0%</span>
<span class="t" style="left:1190px;top:211px;font-size:16.3px;color:#000;height:32px;line-height:32px;">500</span>
<span class="t" style="left:1332px;top:211px;font-size:16.3px;color:#000;height:32px;line-height:32px;">Alle</span>
<span class="t" style="left:1474px;top:211px;font-size:16.3px;color:#000;height:32px;line-height:32px;">0 t</span>
<span class="t" style="left:1616px;top:211px;font-size:16.3px;color:#000;height:32px;line-height:32px;">0,00 kr.</span>
<span class="t" style="left:6px;top:244px;font-size:16.45px;font-weight:bold;color:#000;height:32px;line-height:32px;">7</span>
<svg style="position:absolute;left:88px;top:245px" width="28" height="32" viewBox="88 0 28 32"><rect x="90" y="11" width="20" height="6" fill="#0a5aab"/><path d="M101.4 18.6H112" stroke="#3dba5f" stroke-width="1.15" fill="none"/><path d="M106.4 13.3L111.8 18.6L106.9 23.8" stroke="#fff" stroke-width="2.6" fill="none" opacity=".8"/><path d="M106.4 13.3L111.8 18.6L106.9 23.8" stroke="#3dba5f" stroke-width="1.15" fill="none"/></svg>
<div style="left:137px;top:254px;width:10px;height:10px;border:1px solid #1f3d66;"></div>
<div style="left:140px;top:260px;width:6px;height:1px;background:#1f3d66;"></div>
<span class="t" style="left:154px;top:244px;font-size:16.45px;font-weight:bold;color:#000;height:32px;line-height:32px;">Markedsføring</span>
<span class="t" style="left:480px;top:244px;font-size:16.45px;font-weight:bold;color:#000;height:32px;line-height:32px;">22 dage?</span>
<span class="t" style="left:622px;top:244px;font-size:16.45px;font-weight:bold;color:#000;height:32px;line-height:32px;">07-04-2025</span>
<span class="t" style="left:764px;top:244px;font-size:16.45px;font-weight:bold;color:#000;height:32px;line-height:32px;">06-05-2025</span>
<span class="t" style="left:1048px;top:244px;font-size:16.45px;font-weight:bold;color:#000;height:32px;line-height:32px;">0%</span>
<span class="t" style="left:1190px;top:244px;font-size:16.45px;font-weight:bold;color:#000;height:32px;line-height:32px;">500</span>
<span class="t" style="left:1474px;top:244px;font-size:16.45px;font-weight:bold;color:#000;height:32px;line-height:32px;">216 t</span>
<span class="t" style="left:1616px;top:244px;font-size:16.45px;font-weight:bold;color:#000;height:32px;line-height:32px;">0,00 kr.</span>
<span class="t" style="left:6px;top:277px;font-size:16.3px;color:#000;height:32px;line-height:32px;">8</span>
<svg style="position:absolute;left:88px;top:278px" width="28" height="32" viewBox="88 0 28 32"><rect x="90" y="11" width="20" height="6" fill="#0a5aab"/><path d="M101.4 18.6H112" stroke="#3dba5f" stroke-width="1.15" fill="none"/><path d="M106.4 13.3L111.8 18.6L106.9 23.8" stroke="#fff" stroke-width="2.6" fill="none" opacity=".8"/><path d="M106.4 13.3L111.8 18.6L106.9 23.8" stroke="#3dba5f" stroke-width="1.15" fill="none"/></svg>
<svg style="position:absolute;left:42px;top:278px" width="26" height="30" viewBox="42 0 26 30"><rect x="45" y="11" width="20" height="15" fill="#f7f7f7"/><rect x="43.5" y="6.5" width="23" height="20" fill="none" stroke="#8a8a8a" stroke-width="1"/><path d="M43.5 10.5H66.5M49.5 4V7.5M60.5 4V7.5" stroke="#8a8a8a" stroke-width="1" fill="none"/><rect x="48.5" y="13.5" width="4" height="4" fill="none" stroke="#62bd6e" stroke-width="1"/></svg>
<span class="t" style="left:166px;top:277px;font-size:16.3px;color:#000;height:32px;line-height:32px;">Lave plakater</span>
<span class="t" style="left:480px;top:277px;font-size:16.3px;color:#000;height:32px;line-height:32px;">5 dage</span>
<span class="t" style="left:622px;top:277px;font-size:16.3px;color:#000;height:32px;line-height:32px;">07-04-2025</span>
<span class="t" style="left:764px;top:277px;font-size:16.3px;color:#000;height:32px;line-height:32px;">11-04-2025</span>
<span class="t" style="left:1048px;top:277px;font-size:16.3px;color:#000;height:32px;line-height:32px;">0%</span>
<span class="t" style="left:1190px;top:277px;font-size:16.3px;color:#000;height:32px;line-height:32px;">500</span>
<span class="t" style="left:1332px;top:277px;font-size:16.3px;color:#000;height:32px;line-height:32px;">Alle</span>
<span class="t" style="left:1474px;top:277px;font-size:16.3px;color:#000;height:32px;line-height:32px;">40 t</span>
<span class="t" style="left:1616px;top:277px;font-size:16.3px;color:#000;height:32px;line-height:32px;">0,00 kr.</span>
<span class="t" style="left:6px;top:310px;font-size:16.3px;color:#000;height:32px;line-height:32px;">9</span>
<svg style="position:absolute;left:88px;top:311px" width="28" height="32" viewBox="88 0 28 32"><rect x="90" y="11" width="20" height="6" fill="#0a5aab"/><path d="M101.4 18.6H112" stroke="#3dba5f" stroke-width="1.15" fill="none"/><path d="M106.4 13.3L111.8 18.6L106.9 23.8" stroke="#fff" stroke-width="2.6" fill="none" opacity=".8"/><path d="M106.4 13.3L111.8 18.6L106.9 23.8" stroke="#3dba5f" stroke-width="1.15" fill="none"/></svg>
<svg style="position:absolute;left:42px;top:311px" width="26" height="30" viewBox="42 0 26 30"><rect x="45" y="11" width="20" height="15" fill="#f7f7f7"/><rect x="43.5" y="6.5" width="23" height="20" fill="none" stroke="#8a8a8a" stroke-width="1"/><path d="M43.5 10.5H66.5M49.5 4V7.5M60.5 4V7.5" stroke="#8a8a8a" stroke-width="1" fill="none"/><rect x="48.5" y="13.5" width="4" height="4" fill="none" stroke="#62bd6e" stroke-width="1"/></svg>
<span class="t" style="left:166px;top:310px;font-size:16.3px;color:#000;height:32px;line-height:32px;">Lave en Ig-profil og SoMe posts</span>
<span class="t" style="left:480px;top:310px;font-size:16.3px;color:#000;height:32px;line-height:32px;">1 dag?</span>
<span class="t" style="left:622px;top:310px;font-size:16.3px;color:#000;height:32px;line-height:32px;">07-04-2025</span>
<span class="t" style="left:764px;top:310px;font-size:16.3px;color:#000;height:32px;line-height:32px;">07-04-2025</span>
<span class="t" style="left:1048px;top:310px;font-size:16.3px;color:#000;height:32px;line-height:32px;">0%</span>
<span class="t" style="left:1190px;top:310px;font-size:16.3px;color:#000;height:32px;line-height:32px;">500</span>
<span class="t" style="left:1332px;top:310px;font-size:16.3px;color:#000;height:32px;line-height:32px;">Alle</span>
<span class="t" style="left:1474px;top:310px;font-size:16.3px;color:#000;height:32px;line-height:32px;">8 t</span>
<span class="t" style="left:1616px;top:310px;font-size:16.3px;color:#000;height:32px;line-height:32px;">0,00 kr.</span>
<span class="t" style="left:6px;top:343px;font-size:16.3px;color:#000;height:32px;line-height:32px;">10</span>
<svg style="position:absolute;left:88px;top:344px" width="28" height="32" viewBox="88 0 28 32"><rect x="90" y="11" width="20" height="6" fill="#0a5aab"/><path d="M101.4 18.6H112" stroke="#3dba5f" stroke-width="1.15" fill="none"/><path d="M106.4 13.3L111.8 18.6L106.9 23.8" stroke="#fff" stroke-width="2.6" fill="none" opacity=".8"/><path d="M106.4 13.3L111.8 18.6L106.9 23.8" stroke="#3dba5f" stroke-width="1.15" fill="none"/></svg>
<span class="t" style="left:166px;top:343px;font-size:16.3px;color:#000;height:32px;line-height:32px;">Annoncere vores event</span>
<span class="t" style="left:480px;top:343px;font-size:16.3px;color:#000;height:32px;line-height:32px;">21 dage</span>
<span class="t" style="left:622px;top:343px;font-size:16.3px;color:#000;height:32px;line-height:32px;">08-04-2025</span>
<span class="t" style="left:764px;top:343px;font-size:16.3px;color:#000;height:32px;line-height:32px;">06-05-2025</span>
<span class="t" style="left:906px;top:343px;font-size:16.3px;color:#000;height:32px;line-height:32px;">9</span>
<span class="t" style="left:1048px;top:343px;font-size:16.3px;color:#000;height:32px;line-height:32px;">0%</span>
<span class="t" style="left:1190px;top:343px;font-size:16.3px;color:#000;height:32px;line-height:32px;">500</span>
<span class="t" style="left:1332px;top:343px;font-size:16.3px;color:#000;height:32px;line-height:32px;">Alle</span>
<span class="t" style="left:1474px;top:343px;font-size:16.3px;color:#000;height:32px;line-height:32px;">168 t</span>
<span class="t" style="left:1616px;top:343px;font-size:16.3px;color:#000;height:32px;line-height:32px;">0,00 kr.</span>
<span class="t" style="left:6px;top:376px;font-size:16.45px;font-weight:bold;color:#000;height:32px;line-height:32px;">11</span>
<svg style="position:absolute;left:88px;top:377px" width="28" height="32" viewBox="88 0 28 32"><rect x="90" y="11" width="20" height="6" fill="#0a5aab"/><path d="M101.4 18.6H112" stroke="#3dba5f" stroke-width="1.15" fill="none"/><path d="M106.4 13.3L111.8 18.6L106.9 23.8" stroke="#fff" stroke-width="2.6" fill="none" opacity=".8"/><path d="M106.4 13.3L111.8 18.6L106.9 23.8" stroke="#3dba5f" stroke-width="1.15" fill="none"/></svg>
<div style="left:137px;top:386px;width:10px;height:10px;border:1px solid #1f3d66;"></div>
<div style="left:140px;top:392px;width:6px;height:1px;background:#1f3d66;"></div>
<span class="t" style="left:154px;top:376px;font-size:16.45px;font-weight:bold;color:#000;height:32px;line-height:32px;">Administrativt</span>
<span class="t" style="left:480px;top:376px;font-size:16.45px;font-weight:bold;color:#000;height:32px;line-height:32px;">21 dage?</span>
<span class="t" style="left:622px;top:376px;font-size:16.45px;font-weight:bold;color:#000;height:32px;line-height:32px;">02-04-2025</span>
<span class="t" style="left:764px;top:376px;font-size:16.45px;font-weight:bold;color:#000;height:32px;line-height:32px;">30-04-2025</span>
<span class="t" style="left:1048px;top:376px;font-size:16.45px;font-weight:bold;color:#000;height:32px;line-height:32px;">7%</span>
<span class="t" style="left:1190px;top:376px;font-size:16.45px;font-weight:bold;color:#000;height:32px;line-height:32px;">500</span>
<span class="t" style="left:1474px;top:376px;font-size:16.45px;font-weight:bold;color:#000;height:32px;line-height:32px;">248 t</span>
<span class="t" style="left:1616px;top:376px;font-size:16.45px;font-weight:bold;color:#000;height:32px;line-height:32px;">0,00 kr.</span>
<span class="t" style="left:6px;top:409px;font-size:16.3px;color:#000;height:32px;line-height:32px;">12</span>
<svg style="position:absolute;left:88px;top:410px" width="28" height="32" viewBox="88 0 28 32"><rect x="90" y="11" width="20" height="6" fill="#0a5aab"/><path d="M101.4 18.6H112" stroke="#3dba5f" stroke-width="1.15" fill="none"/><path d="M106.4 13.3L111.8 18.6L106.9 23.8" stroke="#fff" stroke-width="2.6" fill="none" opacity=".8"/><path d="M106.4 13.3L111.8 18.6L106.9 23.8" stroke="#3dba5f" stroke-width="1.15" fill="none"/></svg>
<svg style="position:absolute;left:42px;top:410px" width="26" height="30" viewBox="42 0 26 30"><rect x="45" y="11" width="20" height="15" fill="#f7f7f7"/><rect x="43.5" y="6.5" width="23" height="20" fill="none" stroke="#8a8a8a" stroke-width="1"/><path d="M43.5 10.5H66.5M49.5 4V7.5M60.5 4V7.5" stroke="#8a8a8a" stroke-width="1" fill="none"/><rect x="48.5" y="13.5" width="4" height="4" fill="none" stroke="#62bd6e" stroke-width="1"/></svg>
<span class="t" style="left:166px;top:409px;font-size:16.3px;color:#000;height:32px;line-height:32px;">Lave budget</span>
<span class="t" style="left:480px;top:409px;font-size:16.3px;color:#000;height:32px;line-height:32px;">5 dage</span>
<span class="t" style="left:622px;top:409px;font-size:16.3px;color:#000;height:32px;line-height:32px;">07-04-2025</span>
<span class="t" style="left:764px;top:409px;font-size:16.3px;color:#000;height:32px;line-height:32px;">11-04-2025</span>
<span class="t" style="left:1048px;top:409px;font-size:16.3px;color:#000;height:32px;line-height:32px;">0%</span>
<span class="t" style="left:1190px;top:409px;font-size:16.3px;color:#000;height:32px;line-height:32px;">500</span>
<span class="t" style="left:1332px;top:409px;font-size:16.3px;color:#000;height:32px;line-height:32px;">Alle</span>
<span class="t" style="left:1474px;top:409px;font-size:16.3px;color:#000;height:32px;line-height:32px;">40 t</span>
<span class="t" style="left:1616px;top:409px;font-size:16.3px;color:#000;height:32px;line-height:32px;">0,00 kr.</span>
<span class="t" style="left:6px;top:442px;font-size:16.45px;font-weight:bold;color:#000;height:32px;line-height:32px;">13</span>
<svg style="position:absolute;left:88px;top:443px" width="28" height="32" viewBox="88 0 28 32"><rect x="90" y="11" width="20" height="6" fill="#0a5aab"/><path d="M101.4 18.6H112" stroke="#3dba5f" stroke-width="1.15" fill="none"/><path d="M106.4 13.3L111.8 18.6L106.9 23.8" stroke="#fff" stroke-width="2.6" fill="none" opacity=".8"/><path d="M106.4 13.3L111.8 18.6L106.9 23.8" stroke="#3dba5f" stroke-width="1.15" fill="none"/></svg>
<div style="left:149px;top:452px;width:10px;height:10px;border:1px solid #1f3d66;"></div>
<div style="left:152px;top:458px;width:6px;height:1px;background:#1f3d66;"></div>
<span class="t" style="left:167px;top:442px;font-size:16.45px;font-weight:bold;color:#000;height:32px;line-height:32px;">Finde sponsorater</span>
<span class="t" style="left:480px;top:442px;font-size:16.45px;font-weight:bold;color:#000;height:32px;line-height:32px;">3 dage?</span>
<span class="t" style="left:622px;top:442px;font-size:16.45px;font-weight:bold;color:#000;height:32px;line-height:32px;">02-04-2025</span>
<span class="t" style="left:764px;top:442px;font-size:16.45px;font-weight:bold;color:#000;height:32px;line-height:32px;">04-04-2025</span>
<span class="t" style="left:1048px;top:442px;font-size:16.45px;font-weight:bold;color:#000;height:32px;line-height:32px;">0%</span>
<span class="t" style="left:1190px;top:442px;font-size:16.45px;font-weight:bold;color:#000;height:32px;line-height:32px;">500</span>
<span class="t" style="left:1474px;top:442px;font-size:16.45px;font-weight:bold;color:#000;height:32px;line-height:32px;">48 t</span>
<span class="t" style="left:1616px;top:442px;font-size:16.45px;font-weight:bold;color:#000;height:32px;line-height:32px;">0,00 kr.</span>
<span class="t" style="left:6px;top:475px;font-size:16.3px;color:#000;height:32px;line-height:32px;">14</span>
<svg style="position:absolute;left:88px;top:476px" width="28" height="32" viewBox="88 0 28 32"><rect x="90" y="11" width="20" height="6" fill="#0a5aab"/><path d="M101.4 18.6H112" stroke="#3dba5f" stroke-width="1.15" fill="none"/><path d="M106.4 13.3L111.8 18.6L106.9 23.8" stroke="#fff" stroke-width="2.6" fill="none" opacity=".8"/><path d="M106.4 13.3L111.8 18.6L106.9 23.8" stroke="#3dba5f" stroke-width="1.15" fill="none"/></svg>
<svg style="position:absolute;left:42px;top:476px" width="26" height="30" viewBox="42 0 26 30"><rect x="45" y="11" width="20" height="15" fill="#f7f7f7"/><rect x="43.5" y="6.5" width="23" height="20" fill="none" stroke="#8a8a8a" stroke-width="1"/><path d="M43.5 10.5H66.5M49.5 4V7.5M60.5 4V7.5" stroke="#8a8a8a" stroke-width="1" fill="none"/><rect x="48.5" y="13.5" width="4" height="4" fill="none" stroke="#62bd6e" stroke-width="1"/></svg>
<span class="t" style="left:178px;top:475px;font-size:16.3px;color:#000;height:32px;line-height:32px;">Snakke med Otto Suneson</span>
<span class="t" style="left:480px;top:475px;font-size:16.3px;color:#000;height:32px;line-height:32px;">0,5 dage?</span>
<span class="t" style="left:622px;top:475px;font-size:16.3px;color:#000;height:32px;line-height:32px;">02-04-2025</span>
<span class="t" style="left:764px;top:475px;font-size:16.3px;color:#000;height:32px;line-height:32px;">02-04-2025</span>
<span class="t" style="left:1048px;top:475px;font-size:16.3px;color:#000;height:32px;line-height:32px;">0%</span>
<span class="t" style="left:1190px;top:475px;font-size:16.3px;color:#000;height:32px;line-height:32px;">500</span>
<span class="t" style="left:1332px;top:475px;font-size:16.3px;color:#000;height:32px;line-height:32px;">Mathilde;Lukas</span>
<span class="t" style="left:1474px;top:475px;font-size:16.3px;color:#000;height:32px;line-height:32px;">8 t</span>
<span class="t" style="left:1616px;top:475px;font-size:16.3px;color:#000;height:32px;line-height:32px;">0,00 kr.</span>
<span class="t" style="left:6px;top:508px;font-size:16.3px;color:#000;height:32px;line-height:32px;">15</span>
<svg style="position:absolute;left:88px;top:509px" width="28" height="32" viewBox="88 0 28 32"><rect x="90" y="11" width="20" height="6" fill="#0a5aab"/><path d="M101.4 18.6H112" stroke="#3dba5f" stroke-width="1.15" fill="none"/><path d="M106.4 13.3L111.8 18.6L106.9 23.8" stroke="#fff" stroke-width="2.6" fill="none" opacity=".8"/><path d="M106.4 13.3L111.8 18.6L106.9 23.8" stroke="#3dba5f" stroke-width="1.15" fill="none"/></svg>
<span class="t" style="left:178px;top:508px;font-size:16.3px;color:#000;height:32px;line-height:32px;">Lukas får kontakter til vinsmagning</span>
<span class="t" style="left:480px;top:508px;font-size:16.3px;color:#000;height:32px;line-height:32px;">1 dag?</span>
<span class="t" style="left:622px;top:508px;font-size:16.3px;color:#000;height:32px;line-height:32px;">03-04-2025</span>
<span class="t" style="left:764px;top:508px;font-size:16.3px;color:#000;height:32px;line-height:32px;">03-04-2025</span>
<span class="t" style="left:1048px;top:508px;font-size:16.3px;color:#000;height:32px;line-height:32px;">0%</span>
<span class="t" style="left:1190px;top:508px;font-size:16.3px;color:#000;height:32px;line-height:32px;">500</span>
<span class="t" style="left:1332px;top:508px;font-size:16.3px;color:#000;height:32px;line-height:32px;">Lukas</span>
<span class="t" style="left:1474px;top:508px;font-size:16.3px;color:#000;height:32px;line-height:32px;">8 t</span>
<span class="t" style="left:1616px;top:508px;font-size:16.3px;color:#000;height:32px;line-height:32px;">0,00 kr.</span>
<span class="t" style="left:6px;top:541px;font-size:16.3px;color:#000;height:32px;line-height:32px;">16</span>
<svg style="position:absolute;left:88px;top:542px" width="28" height="32" viewBox="88 0 28 32"><rect x="90" y="11" width="20" height="6" fill="#0a5aab"/><path d="M101.4 18.6H112" stroke="#3dba5f" stroke-width="1.15" fill="none"/><path d="M106.4 13.3L111.8 18.6L106.9 23.8" stroke="#fff" stroke-width="2.6" fill="none" opacity=".8"/><path d="M106.4 13.3L111.8 18.6L106.9 23.8" stroke="#3dba5f" stroke-width="1.15" fill="none"/></svg>
<span class="t" style="left:178px;top:541px;font-size:16.3px;color:#000;height:32px;line-height:32px;">Snakke med bullion</span>
<span class="t" style="left:480px;top:541px;font-size:16.3px;color:#000;height:32px;line-height:32px;">2 dage</span>
<span class="t" style="left:622px;top:541px;font-size:16.3px;color:#000;height:32px;line-height:32px;">03-04-2025</span>
<span class="t" style="left:764px;top:541px;font-size:16.3px;color:#000;height:32px;line-height:32px;">04-04-2025</span>
<span class="t" style="left:1048px;top:541px;font-size:16.3px;color:#000;height:32px;line-height:32px;">0%</span>
<span class="t" style="left:1190px;top:541px;font-size:16.3px;color:#000;height:32px;line-height:32px;">500</span>
<span class="t" style="left:1332px;top:541px;font-size:16.3px;color:#000;height:32px;line-height:32px;">Lukas roomie St...</span>
<span class="t" style="left:1474px;top:541px;font-size:16.3px;color:#000;height:32px;line-height:32px;">16 t</span>
<span class="t" style="left:1616px;top:541px;font-size:16.3px;color:#000;height:32px;line-height:32px;">0,00 kr.</span>
<span class="t" style="left:6px;top:574px;font-size:16.3px;color:#000;height:32px;line-height:32px;">17</span>
<svg style="position:absolute;left:88px;top:575px" width="28" height="32" viewBox="88 0 28 32"><rect x="90" y="11" width="20" height="6" fill="#0a5aab"/><path d="M101.4 18.6H112" stroke="#3dba5f" stroke-width="1.15" fill="none"/><path d="M106.4 13.3L111.8 18.6L106.9 23.8" stroke="#fff" stroke-width="2.6" fill="none" opacity=".8"/><path d="M106.4 13.3L111.8 18.6L106.9 23.8" stroke="#3dba5f" stroke-width="1.15" fill="none"/></svg>
<svg style="position:absolute;left:42px;top:575px" width="26" height="30" viewBox="42 0 26 30"><rect x="45" y="11" width="20" height="15" fill="#f7f7f7"/><rect x="43.5" y="6.5" width="23" height="20" fill="none" stroke="#8a8a8a" stroke-width="1"/><path d="M43.5 10.5H66.5M49.5 4V7.5M60.5 4V7.5" stroke="#8a8a8a" stroke-width="1" fill="none"/><rect x="48.5" y="13.5" width="4" height="4" fill="none" stroke="#62bd6e" stroke-width="1"/></svg>
<span class="t" style="left:178px;top:574px;font-size:16.3px;color:#000;height:32px;line-height:32px;">Smalle vine</span>
<span class="t" style="left:480px;top:574px;font-size:16.3px;color:#000;height:32px;line-height:32px;">1 dag?</span>
<span class="t" style="left:622px;top:574px;font-size:16.3px;color:#000;height:32px;line-height:32px;">02-04-2025</span>
<span class="t" style="left:764px;top:574px;font-size:16.3px;color:#000;height:32px;line-height:32px;">02-04-2025</span>
<span class="t" style="left:1048px;top:574px;font-size:16.3px;color:#000;height:32px;line-height:32px;">0%</span>
<span class="t" style="left:1190px;top:574px;font-size:16.3px;color:#000;height:32px;line-height:32px;">500</span>
<span class="t" style="left:1332px;top:574px;font-size:16.3px;color:#000;height:32px;line-height:32px;">Mathilde;Lukas</span>
<span class="t" style="left:1474px;top:574px;font-size:16.3px;color:#000;height:32px;line-height:32px;">16 t</span>
<span class="t" style="left:1616px;top:574px;font-size:16.3px;color:#000;height:32px;line-height:32px;">0,00 kr.</span>
<span class="t" style="left:6px;top:607px;font-size:16.3px;color:#000;height:32px;line-height:32px;">18</span>
<svg style="position:absolute;left:88px;top:608px" width="28" height="32" viewBox="88 0 28 32"><rect x="90" y="11" width="20" height="6" fill="#0a5aab"/><path d="M101.4 18.6H112" stroke="#3dba5f" stroke-width="1.15" fill="none"/><path d="M106.4 13.3L111.8 18.6L106.9 23.8" stroke="#fff" stroke-width="2.6" fill="none" opacity=".8"/><path d="M106.4 13.3L111.8 18.6L106.9 23.8" stroke="#3dba5f" stroke-width="1.15" fill="none"/></svg>
<svg style="position:absolute;left:42px;top:608px" width="26" height="30" viewBox="42 0 26 30"><rect x="45" y="11" width="20" height="15" fill="#f7f7f7"/><rect x="43.5" y="6.5" width="23" height="20" fill="none" stroke="#8a8a8a" stroke-width="1"/><path d="M43.5 10.5H66.5M49.5 4V7.5M60.5 4V7.5" stroke="#8a8a8a" stroke-width="1" fill="none"/><rect x="48.5" y="13.5" width="4" height="4" fill="none" stroke="#62bd6e" stroke-width="1"/></svg>
<span class="t" style="left:166px;top:607px;font-size:16.3px;color:#000;height:32px;line-height:32px;">Finde og booke lokale</span>
<span class="t" style="left:480px;top:607px;font-size:16.3px;color:#000;height:32px;line-height:32px;">20 dage</span>
<span class="t" style="left:622px;top:607px;font-size:16.3px;color:#000;height:32px;line-height:32px;">03-04-2025</span>
<span class="t" style="left:764px;top:607px;font-size:16.3px;color:#000;height:32px;line-height:32px;">30-04-2025</span>
<span class="t" style="left:1048px;top:607px;font-size:16.3px;color:#000;height:32px;line-height:32px;">10%</span>
<span class="t" style="left:1190px;top:607px;font-size:16.3px;color:#000;height:32px;line-height:32px;">500</span>
<span class="t" style="left:1332px;top:607px;font-size:16.3px;color:#000;height:32px;line-height:32px;">Alle</span>
<span class="t" style="left:1474px;top:607px;font-size:16.3px;color:#000;height:32px;line-height:32px;">160 t</span>
<span class="t" style="left:1616px;top:607px;font-size:16.3px;color:#000;height:32px;line-height:32px;">0,00 kr.</span>
<span class="t" style="left:6px;top:640px;font-size:16.45px;font-weight:bold;color:#000;height:32px;line-height:32px;">19</span>
<svg style="position:absolute;left:88px;top:641px" width="28" height="32" viewBox="88 0 28 32"><rect x="90" y="11" width="20" height="6" fill="#0a5aab"/><path d="M101.4 18.6H112" stroke="#3dba5f" stroke-width="1.15" fill="none"/><path d="M106.4 13.3L111.8 18.6L106.9 23.8" stroke="#fff" stroke-width="2.6" fill="none" opacity=".8"/><path d="M106.4 13.3L111.8 18.6L106.9 23.8" stroke="#3dba5f" stroke-width="1.15" fill="none"/></svg>
<div style="left:137px;top:650px;width:10px;height:10px;border:1px solid #1f3d66;"></div>
<div style="left:140px;top:656px;width:6px;height:1px;background:#1f3d66;"></div>
<span class="t" style="left:154px;top:640px;font-size:16.45px;font-weight:bold;color:#000;height:32px;line-height:32px;">Praktisk forberedelse</span>
<span class="t" style="left:480px;top:640px;font-size:16.45px;font-weight:bold;color:#000;height:32px;line-height:32px;">20 dage</span>
<span class="t" style="left:622px;top:640px;font-size:16.45px;font-weight:bold;color:#000;height:32px;line-height:32px;">07-04-2025</span>
<span class="t" style="left:764px;top:640px;font-size:16.45px;font-weight:bold;color:#000;height:32px;line-height:32px;">02-05-2025</span>
<span class="t" style="left:906px;top:640px;font-size:16.45px;font-weight:bold;color:#000;height:32px;line-height:32px;">13</span>
<span class="t" style="left:1048px;top:640px;font-size:16.45px;font-weight:bold;color:#000;height:32px;line-height:32px;">0%</span>
<span class="t" style="left:1190px;top:640px;font-size:16.45px;font-weight:bold;color:#000;height:32px;line-height:32px;">500</span>
<span class="t" style="left:1474px;top:640px;font-size:16.45px;font-weight:bold;color:#000;height:32px;line-height:32px;">280 t</span>
<span class="t" style="left:1616px;top:640px;font-size:16.45px;font-weight:bold;color:#000;height:32px;line-height:32px;">0,00 kr.</span>
<span class="t" style="left:6px;top:673px;font-size:16.3px;color:#000;height:32px;line-height:32px;">20</span>
<svg style="position:absolute;left:88px;top:674px" width="28" height="32" viewBox="88 0 28 32"><rect x="90" y="11" width="20" height="6" fill="#0a5aab"/><path d="M101.4 18.6H112" stroke="#3dba5f" stroke-width="1.15" fill="none"/><path d="M106.4 13.3L111.8 18.6L106.9 23.8" stroke="#fff" stroke-width="2.6" fill="none" opacity=".8"/><path d="M106.4 13.3L111.8 18.6L106.9 23.8" stroke="#3dba5f" stroke-width="1.15" fill="none"/></svg>
<svg style="position:absolute;left:42px;top:674px" width="26" height="30" viewBox="42 0 26 30"><rect x="45" y="11" width="20" height="15" fill="#f7f7f7"/><rect x="43.5" y="6.5" width="23" height="20" fill="none" stroke="#8a8a8a" stroke-width="1"/><path d="M43.5 10.5H66.5M49.5 4V7.5M60.5 4V7.5" stroke="#8a8a8a" stroke-width="1" fill="none"/><rect x="48.5" y="13.5" width="4" height="4" fill="none" stroke="#62bd6e" stroke-width="1"/></svg>
<span class="t" style="left:166px;top:673px;font-size:16.3px;color:#000;height:32px;line-height:32px;">Udvælge og (måske) købe vine</span>
<span class="t" style="left:480px;top:673px;font-size:16.3px;color:#000;height:32px;line-height:32px;">5 dage</span>
<span class="t" style="left:622px;top:673px;font-size:16.3px;color:#000;height:32px;line-height:32px;">14-04-2025</span>
<span class="t" style="left:764px;top:673px;font-size:16.3px;color:#000;height:32px;line-height:32px;">18-04-2025</span>
<span class="t" style="left:1048px;top:673px;font-size:16.3px;color:#000;height:32px;line-height:32px;">0%</span>
<span class="t" style="left:1190px;top:673px;font-size:16.3px;color:#000;height:32px;line-height:32px;">500</span>
<span class="t" style="left:1332px;top:673px;font-size:16.3px;color:#000;height:32px;line-height:32px;">Vinforhandlere</span>
<span class="t" style="left:1474px;top:673px;font-size:16.3px;color:#000;height:32px;line-height:32px;">40 t</span>
<span class="t" style="left:1616px;top:673px;font-size:16.3px;color:#000;height:32px;line-height:32px;">0,00 kr.</span>
<span class="t" style="left:6px;top:706px;font-size:16.3px;color:#000;height:32px;line-height:32px;">21</span>
<svg style="position:absolute;left:88px;top:707px" width="28" height="32" viewBox="88 0 28 32"><rect x="90" y="11" width="20" height="6" fill="#0a5aab"/><path d="M101.4 18.6H112" stroke="#3dba5f" stroke-width="1.15" fill="none"/><path d="M106.4 13.3L111.8 18.6L106.9 23.8" stroke="#fff" stroke-width="2.6" fill="none" opacity=".8"/><path d="M106.4 13.3L111.8 18.6L106.9 23.8" stroke="#3dba5f" stroke-width="1.15" fill="none"/></svg>
<svg style="position:absolute;left:42px;top:707px" width="26" height="30" viewBox="42 0 26 30"><rect x="45" y="11" width="20" height="15" fill="#f7f7f7"/><rect x="43.5" y="6.5" width="23" height="20" fill="none" stroke="#8a8a8a" stroke-width="1"/><path d="M43.5 10.5H66.5M49.5 4V7.5M60.5 4V7.5" stroke="#8a8a8a" stroke-width="1" fill="none"/><rect x="48.5" y="13.5" width="4" height="4" fill="none" stroke="#62bd6e" stroke-width="1"/></svg>
<span class="t" style="left:166px;top:706px;font-size:16.3px;color:#000;height:32px;line-height:32px;">Undersøge information om vinene</span>
<span class="t" style="left:480px;top:706px;font-size:16.3px;color:#000;height:32px;line-height:32px;">5 dage</span>
<span class="t" style="left:622px;top:706px;font-size:16.3px;color:#000;height:32px;line-height:32px;">18-04-2025</span>
<span class="t" style="left:764px;top:706px;font-size:16.3px;color:#000;height:32px;line-height:32px;">24-04-2025</span>
<span class="t" style="left:1048px;top:706px;font-size:16.3px;color:#000;height:32px;line-height:32px;">0%</span>
<span class="t" style="left:1190px;top:706px;font-size:16.3px;color:#000;height:32px;line-height:32px;">500</span>
<span class="t" style="left:1332px;top:706px;font-size:16.3px;color:#000;height:32px;line-height:32px;">Alle</span>
<span class="t" style="left:1474px;top:706px;font-size:16.3px;color:#000;height:32px;line-height:32px;">40 t</span>
<span class="t" style="left:1616px;top:706px;font-size:16.3px;color:#000;height:32px;line-height:32px;">0,00 kr.</span>
<span class="t" style="left:6px;top:739px;font-size:16.3px;color:#000;height:32px;line-height:32px;">22</span>
<svg style="position:absolute;left:88px;top:740px" width="28" height="32" viewBox="88 0 28 32"><rect x="90" y="11" width="20" height="6" fill="#0a5aab"/><path d="M101.4 18.6H112" stroke="#3dba5f" stroke-width="1.15" fill="none"/><path d="M106.4 13.3L111.8 18.6L106.9 23.8" stroke="#fff" stroke-width="2.6" fill="none" opacity=".8"/><path d="M106.4 13.3L111.8 18.6L106.9 23.8" stroke="#3dba5f" stroke-width="1.15" fill="none"/></svg>
<svg style="position:absolute;left:42px;top:740px" width="26" height="30" viewBox="42 0 26 30"><rect x="45" y="11" width="20" height="15" fill="#f7f7f7"/><rect x="43.5" y="6.5" width="23" height="20" fill="none" stroke="#8a8a8a" stroke-width="1"/><path d="M43.5 10.5H66.5M49.5 4V7.5M60.5 4V7.5" stroke="#8a8a8a" stroke-width="1" fill="none"/><rect x="48.5" y="13.5" width="4" height="4" fill="none" stroke="#62bd6e" stroke-width="1"/></svg>
<span class="t" style="left:166px;top:739px;font-size:16.3px;color:#000;height:32px;line-height:32px;">Lave en quiz/konkurrence</span>
<span class="t" style="left:480px;top:739px;font-size:16.3px;color:#000;height:32px;line-height:32px;">5 dage</span>
<span class="t" style="left:622px;top:739px;font-size:16.3px;color:#000;height:32px;line-height:32px;">28-04-2025</span>
<span class="t" style="left:764px;top:739px;font-size:16.3px;color:#000;height:32px;line-height:32px;">02-05-2025</span>
<span class="t" style="left:1048px;top:739px;font-size:16.3px;color:#000;height:32px;line-height:32px;">0%</span>
<span class="t" style="left:1190px;top:739px;font-size:16.3px;color:#000;height:32px;line-height:32px;">500</span>
<span class="t" style="left:1332px;top:739px;font-size:16.3px;color:#000;height:32px;line-height:32px;">Alle</span>
<span class="t" style="left:1474px;top:739px;font-size:16.3px;color:#000;height:32px;line-height:32px;">40 t</span>
<span class="t" style="left:1616px;top:739px;font-size:16.3px;color:#000;height:32px;line-height:32px;">0,00 kr.</span>
<span class="t" style="left:6px;top:772px;font-size:16.3px;color:#000;height:32px;line-height:32px;">23</span>
<svg style="position:absolute;left:88px;top:773px" width="28" height="32" viewBox="88 0 28 32"><rect x="90" y="11" width="20" height="6" fill="#0a5aab"/><path d="M101.4 18.6H112" stroke="#3dba5f" stroke-width="1.15" fill="none"/><path d="M106.4 13.3L111.8 18.6L106.9 23.8" stroke="#fff" stroke-width="2.6" fill="none" opacity=".8"/><path d="M106.4 13.3L111.8 18.6L106.9 23.8" stroke="#3dba5f" stroke-width="1.15" fill="none"/></svg>
<span class="t" style="left:166px;top:772px;font-size:16.3px;color:#000;height:32px;line-height:32px;">Lave en tilmeldingsliste</span>
<span class="t" style="left:480px;top:772px;font-size:16.3px;color:#000;height:32px;line-height:32px;">5 dage</span>
<span class="t" style="left:622px;top:772px;font-size:16.3px;color:#000;height:32px;line-height:32px;">07-04-2025</span>
<span class="t" style="left:764px;top:772px;font-size:16.3px;color:#000;height:32px;line-height:32px;">11-04-2025</span>
<span class="t" style="left:906px;top:772px;font-size:16.3px;color:#000;height:32px;line-height:32px;">13</span>
<span class="t" style="left:1048px;top:772px;font-size:16.3px;color:#000;height:32px;line-height:32px;">0%</span>
<span class="t" style="left:1190px;top:772px;font-size:16.3px;color:#000;height:32px;line-height:32px;">500</span>
<span class="t" style="left:1332px;top:772px;font-size:16.3px;color:#000;height:32px;line-height:32px;">Alle</span>
<span class="t" style="left:1474px;top:772px;font-size:16.3px;color:#000;height:32px;line-height:32px;">40 t</span>
<span class="t" style="left:1616px;top:772px;font-size:16.3px;color:#000;height:32px;line-height:32px;">0,00 kr.</span>
<span class="t" style="left:6px;top:805px;font-size:16.3px;color:#000;height:32px;line-height:32px;">24</span>
<svg style="position:absolute;left:88px;top:806px" width="28" height="32" viewBox="88 0 28 32"><rect x="90" y="11" width="20" height="6" fill="#0a5aab"/><path d="M101.4 18.6H112" stroke="#3dba5f" stroke-width="1.15" fill="none"/><path d="M106.4 13.3L111.8 18.6L106.9 23.8" stroke="#fff" stroke-width="2.6" fill="none" opacity=".8"/><path d="M106.4 13.3L111.8 18.6L106.9 23.8" stroke="#3dba5f" stroke-width="1.15" fill="none"/></svg>
<svg style="position:absolute;left:42px;top:806px" width="26" height="30" viewBox="42 0 26 30"><rect x="45" y="11" width="20" height="15" fill="#f7f7f7"/><rect x="43.5" y="6.5" width="23" height="20" fill="none" stroke="#8a8a8a" stroke-width="1"/><path d="M43.5 10.5H66.5M49.5 4V7.5M60.5 4V7.5" stroke="#8a8a8a" stroke-width="1" fill="none"/><rect x="48.5" y="13.5" width="4" height="4" fill="none" stroke="#62bd6e" stroke-width="1"/></svg>
<span class="t" style="left:166px;top:805px;font-size:16.3px;color:#000;height:32px;line-height:32px;">Aftale en dato</span>
<span class="t" style="left:480px;top:805px;font-size:16.3px;color:#000;height:32px;line-height:32px;">5 dage</span>
<span class="t" style="left:622px;top:805px;font-size:16.3px;color:#000;height:32px;line-height:32px;">07-04-2025</span>
<span class="t" style="left:764px;top:805px;font-size:16.3px;color:#000;height:32px;line-height:32px;">11-04-2025</span>
<span class="t" style="left:1048px;top:805px;font-size:16.3px;color:#000;height:32px;line-height:32px;">0%</span>
<span class="t" style="left:1190px;top:805px;font-size:16.3px;color:#000;height:32px;line-height:32px;">500</span>
<span class="t" style="left:1332px;top:805px;font-size:16.3px;color:#000;height:32px;line-height:32px;">Alle</span>
<span class="t" style="left:1474px;top:805px;font-size:16.3px;color:#000;height:32px;line-height:32px;">40 t</span>
<span class="t" style="left:1616px;top:805px;font-size:16.3px;color:#000;height:32px;line-height:32px;">0,00 kr.</span>
<span class="t" style="left:6px;top:838px;font-size:16.3px;color:#000;height:32px;line-height:32px;">25</span>
<svg style="position:absolute;left:88px;top:839px" width="28" height="32" viewBox="88 0 28 32"><rect x="90" y="11" width="20" height="6" fill="#0a5aab"/><path d="M101.4 18.6H112" stroke="#3dba5f" stroke-width="1.15" fill="none"/><path d="M106.4 13.3L111.8 18.6L106.9 23.8" stroke="#fff" stroke-width="2.6" fill="none" opacity=".8"/><path d="M106.4 13.3L111.8 18.6L106.9 23.8" stroke="#3dba5f" stroke-width="1.15" fill="none"/></svg>
<svg style="position:absolute;left:42px;top:839px" width="26" height="30" viewBox="42 0 26 30"><rect x="45" y="11" width="20" height="15" fill="#f7f7f7"/><rect x="43.5" y="6.5" width="23" height="20" fill="none" stroke="#8a8a8a" stroke-width="1"/><path d="M43.5 10.5H66.5M49.5 4V7.5M60.5 4V7.5" stroke="#8a8a8a" stroke-width="1" fill="none"/><rect x="48.5" y="13.5" width="4" height="4" fill="none" stroke="#62bd6e" stroke-width="1"/></svg>
<span class="t" style="left:166px;top:838px;font-size:16.3px;color:#000;height:32px;line-height:32px;">Lave små brochure</span>
<span class="t" style="left:480px;top:838px;font-size:16.3px;color:#000;height:32px;line-height:32px;">5 dage</span>
<span class="t" style="left:622px;top:838px;font-size:16.3px;color:#000;height:32px;line-height:32px;">28-04-2025</span>
<span class="t" style="left:764px;top:838px;font-size:16.3px;color:#000;height:32px;line-height:32px;">02-05-2025</span>
<span class="t" style="left:1048px;top:838px;font-size:16.3px;color:#000;height:32px;line-height:32px;">0%</span>
<span class="t" style="left:1190px;top:838px;font-size:16.3px;color:#000;height:32px;line-height:32px;">500</span>
<span class="t" style="left:1332px;top:838px;font-size:16.3px;color:#000;height:32px;line-height:32px;">Alle</span>
<span class="t" style="left:1474px;top:838px;font-size:16.3px;color:#000;height:32px;line-height:32px;">40 t</span>
<span class="t" style="left:1616px;top:838px;font-size:16.3px;color:#000;height:32px;line-height:32px;">0,00 kr.</span>
<span class="t" style="left:6px;top:871px;font-size:16.3px;color:#000;height:32px;line-height:32px;">26</span>
<svg style="position:absolute;left:88px;top:872px" width="28" height="32" viewBox="88 0 28 32"><rect x="90" y="11" width="20" height="6" fill="#0a5aab"/><path d="M101.4 18.6H112" stroke="#3dba5f" stroke-width="1.15" fill="none"/><path d="M106.4 13.3L111.8 18.6L106.9 23.8" stroke="#fff" stroke-width="2.6" fill="none" opacity=".8"/><path d="M106.4 13.3L111.8 18.6L106.9 23.8" stroke="#3dba5f" stroke-width="1.15" fill="none"/></svg>
<svg style="position:absolute;left:42px;top:872px" width="26" height="30" viewBox="42 0 26 30"><rect x="45" y="11" width="20" height="15" fill="#f7f7f7"/><rect x="43.5" y="6.5" width="23" height="20" fill="none" stroke="#8a8a8a" stroke-width="1"/><path d="M43.5 10.5H66.5M49.5 4V7.5M60.5 4V7.5" stroke="#8a8a8a" stroke-width="1" fill="none"/><rect x="48.5" y="13.5" width="4" height="4" fill="none" stroke="#62bd6e" stroke-width="1"/></svg>
<span class="t" style="left:166px;top:871px;font-size:16.3px;color:#000;height:32px;line-height:32px;">Lave en pris for deltagelse</span>
<span class="t" style="left:480px;top:871px;font-size:16.3px;color:#000;height:32px;line-height:32px;">2,5 dage</span>
<span class="t" style="left:622px;top:871px;font-size:16.3px;color:#000;height:32px;line-height:32px;">14-04-2025</span>
<span class="t" style="left:764px;top:871px;font-size:16.3px;color:#000;height:32px;line-height:32px;">16-04-2025</span>
<span class="t" style="left:1048px;top:871px;font-size:16.3px;color:#000;height:32px;line-height:32px;">0%</span>
<span class="t" style="left:1190px;top:871px;font-size:16.3px;color:#000;height:32px;line-height:32px;">500</span>
<span class="t" style="left:1332px;top:871px;font-size:16.3px;color:#000;height:32px;line-height:32px;">Alle;Vinforhandl...</span>
<span class="t" style="left:1474px;top:871px;font-size:16.3px;color:#000;height:32px;line-height:32px;">40 t</span>
<span class="t" style="left:1616px;top:871px;font-size:16.3px;color:#000;height:32px;line-height:32px;">0,00 kr.</span>
<span class="t" style="left:6px;top:904px;font-size:16.45px;font-weight:bold;color:#000;height:32px;line-height:32px;">27</span>
<svg style="position:absolute;left:88px;top:905px" width="28" height="32" viewBox="88 0 28 32"><rect x="90" y="11" width="20" height="6" fill="#0a5aab"/><path d="M101.4 18.6H112" stroke="#3dba5f" stroke-width="1.15" fill="none"/><path d="M106.4 13.3L111.8 18.6L106.9 23.8" stroke="#fff" stroke-width="2.6" fill="none" opacity=".8"/><path d="M106.4 13.3L111.8 18.6L106.9 23.8" stroke="#3dba5f" stroke-width="1.15" fill="none"/></svg>
<div style="left:137px;top:914px;width:10px;height:10px;border:1px solid #1f3d66;"></div>
<div style="left:140px;top:920px;width:6px;height:1px;background:#1f3d66;"></div>
<span class="t" style="left:154px;top:904px;font-size:16.45px;font-weight:bold;color:#000;height:32px;line-height:32px;">Selve dagen (uge 20)</span>
<span class="t" style="left:480px;top:904px;font-size:16.45px;font-weight:bold;color:#000;height:32px;line-height:32px;">0 dage</span>
<span class="t" style="left:622px;top:904px;font-size:16.45px;font-weight:bold;color:#000;height:32px;line-height:32px;">15-05-2025</span>
<span class="t" style="left:764px;top:904px;font-size:16.45px;font-weight:bold;color:#000;height:32px;line-height:32px;">15-05-2025</span>
<span class="t" style="left:1048px;top:904px;font-size:16.45px;font-weight:bold;color:#000;height:32px;line-height:32px;">0%</span>
<span class="t" style="left:1190px;top:904px;font-size:16.45px;font-weight:bold;color:#000;height:32px;line-height:32px;">500</span>
<span class="t" style="left:1332px;top:904px;font-size:16.45px;font-weight:bold;color:#000;height:32px;line-height:32px;">Alle;Vinforhand...</span>
<span class="t" style="left:1474px;top:904px;font-size:16.45px;font-weight:bold;color:#000;height:32px;line-height:32px;">0 t</span>
<span class="t" style="left:1616px;top:904px;font-size:16.45px;font-weight:bold;color:#000;height:32px;line-height:32px;">0,00 kr.</span>
<span class="t" style="left:6px;top:937px;font-size:16.3px;color:#000;height:32px;line-height:32px;">28</span>
<svg style="position:absolute;left:88px;top:938px" width="28" height="32" viewBox="88 0 28 32"><rect x="90" y="11" width="20" height="6" fill="#0a5aab"/><path d="M101.4 18.6H112" stroke="#3dba5f" stroke-width="1.15" fill="none"/><path d="M106.4 13.3L111.8 18.6L106.9 23.8" stroke="#fff" stroke-width="2.6" fill="none" opacity=".8"/><path d="M106.4 13.3L111.8 18.6L106.9 23.8" stroke="#3dba5f" stroke-width="1.15" fill="none"/></svg>
<svg style="position:absolute;left:42px;top:938px" width="26" height="30" viewBox="42 0 26 30"><rect x="45" y="11" width="20" height="15" fill="#f7f7f7"/><rect x="43.5" y="6.5" width="23" height="20" fill="none" stroke="#8a8a8a" stroke-width="1"/><path d="M43.5 10.5H66.5M49.5 4V7.5M60.5 4V7.5" stroke="#8a8a8a" stroke-width="1" fill="none"/><rect x="48.5" y="13.5" width="4" height="4" fill="none" stroke="#62bd6e" stroke-width="1"/></svg>
<span class="t" style="left:166px;top:937px;font-size:16.3px;color:#000;height:32px;line-height:32px;">Komme før og gøre klar</span>
<span class="t" style="left:480px;top:937px;font-size:16.3px;color:#000;height:32px;line-height:32px;">0 dage</span>
<span class="t" style="left:622px;top:937px;font-size:16.3px;color:#000;height:32px;line-height:32px;">15-05-2025</span>
<span class="t" style="left:764px;top:937px;font-size:16.3px;color:#000;height:32px;line-height:32px;">15-05-2025</span>
<span class="t" style="left:1048px;top:937px;font-size:16.3px;color:#000;height:32px;line-height:32px;">0%</span>
<span class="t" style="left:1190px;top:937px;font-size:16.3px;color:#000;height:32px;line-height:32px;">500</span>
<span class="t" style="left:1474px;top:937px;font-size:16.3px;color:#000;height:32px;line-height:32px;">0 t</span>
<span class="t" style="left:1616px;top:937px;font-size:16.3px;color:#000;height:32px;line-height:32px;">0,00 kr.</span>
<span class="t" style="left:6px;top:970px;font-size:16.3px;color:#000;height:32px;line-height:32px;">29</span>
<svg style="position:absolute;left:88px;top:971px" width="28" height="32" viewBox="88 0 28 32"><rect x="90" y="11" width="20" height="6" fill="#0a5aab"/><path d="M101.4 18.6H112" stroke="#3dba5f" stroke-width="1.15" fill="none"/><path d="M106.4 13.3L111.8 18.6L106.9 23.8" stroke="#fff" stroke-width="2.6" fill="none" opacity=".8"/><path d="M106.4 13.3L111.8 18.6L106.9 23.8" stroke="#3dba5f" stroke-width="1.15" fill="none"/></svg>
<svg style="position:absolute;left:42px;top:971px" width="26" height="30" viewBox="42 0 26 30"><rect x="45" y="11" width="20" height="15" fill="#f7f7f7"/><rect x="43.5" y="6.5" width="23" height="20" fill="none" stroke="#8a8a8a" stroke-width="1"/><path d="M43.5 10.5H66.5M49.5 4V7.5M60.5 4V7.5" stroke="#8a8a8a" stroke-width="1" fill="none"/><rect x="48.5" y="13.5" width="4" height="4" fill="none" stroke="#62bd6e" stroke-width="1"/></svg>
<span class="t" style="left:166px;top:970px;font-size:16.3px;color:#000;height:32px;line-height:32px;">Byde gæsterne velkommen</span>
<span class="t" style="left:480px;top:970px;font-size:16.3px;color:#000;height:32px;line-height:32px;">0 dage</span>
<span class="t" style="left:622px;top:970px;font-size:16.3px;color:#000;height:32px;line-height:32px;">15-05-2025</span>
<span class="t" style="left:764px;top:970px;font-size:16.3px;color:#000;height:32px;line-height:32px;">15-05-2025</span>
<span class="t" style="left:1048px;top:970px;font-size:16.3px;color:#000;height:32px;line-height:32px;">0%</span>
<span class="t" style="left:1190px;top:970px;font-size:16.3px;color:#000;height:32px;line-height:32px;">500</span>
<span class="t" style="left:1474px;top:970px;font-size:16.3px;color:#000;height:32px;line-height:32px;">0 t</span>
<span class="t" style="left:1616px;top:970px;font-size:16.3px;color:#000;height:32px;line-height:32px;">0,00 kr.</span>
<span class="t" style="left:6px;top:1003px;font-size:16.3px;color:#000;height:32px;line-height:32px;">30</span>
<svg style="position:absolute;left:88px;top:1004px" width="28" height="32" viewBox="88 0 28 32"><rect x="90" y="11" width="20" height="6" fill="#0a5aab"/><path d="M101.4 18.6H112" stroke="#3dba5f" stroke-width="1.15" fill="none"/><path d="M106.4 13.3L111.8 18.6L106.9 23.8" stroke="#fff" stroke-width="2.6" fill="none" opacity=".8"/><path d="M106.4 13.3L111.8 18.6L106.9 23.8" stroke="#3dba5f" stroke-width="1.15" fill="none"/></svg>
<svg style="position:absolute;left:42px;top:1004px" width="26" height="30" viewBox="42 0 26 30"><rect x="45" y="11" width="20" height="15" fill="#f7f7f7"/><rect x="43.5" y="6.5" width="23" height="20" fill="none" stroke="#8a8a8a" stroke-width="1"/><path d="M43.5 10.5H66.5M49.5 4V7.5M60.5 4V7.5" stroke="#8a8a8a" stroke-width="1" fill="none"/><rect x="48.5" y="13.5" width="4" height="4" fill="none" stroke="#62bd6e" stroke-width="1"/></svg>
<span class="t" style="left:166px;top:1003px;font-size:16.3px;color:#000;height:32px;line-height:32px;">Gennemførelse af aftenen</span>
<span class="t" style="left:480px;top:1003px;font-size:16.3px;color:#000;height:32px;line-height:32px;">0 dage</span>
<span class="t" style="left:622px;top:1003px;font-size:16.3px;color:#000;height:32px;line-height:32px;">15-05-2025</span>
<span class="t" style="left:764px;top:1003px;font-size:16.3px;color:#000;height:32px;line-height:32px;">15-05-2025</span>
<span class="t" style="left:1048px;top:1003px;font-size:16.3px;color:#000;height:32px;line-height:32px;">0%</span>
<span class="t" style="left:1190px;top:1003px;font-size:16.3px;color:#000;height:32px;line-height:32px;">500</span>
<span class="t" style="left:1474px;top:1003px;font-size:16.3px;color:#000;height:32px;line-height:32px;">0 t</span>
<span class="t" style="left:1616px;top:1003px;font-size:16.3px;color:#000;height:32px;line-height:32px;">0,00 kr.</span>
<span class="t" style="left:6px;top:1036px;font-size:16.3px;color:#000;height:32px;line-height:32px;">31</span>
<svg style="position:absolute;left:88px;top:1037px" width="28" height="32" viewBox="88 0 28 32"><rect x="90" y="11" width="20" height="6" fill="#0a5aab"/><path d="M101.4 18.6H112" stroke="#3dba5f" stroke-width="1.15" fill="none"/><path d="M106.4 13.3L111.8 18.6L106.9 23.8" stroke="#fff" stroke-width="2.6" fill="none" opacity=".8"/><path d="M106.4 13.3L111.8 18.6L106.9 23.8" stroke="#3dba5f" stroke-width="1.15" fill="none"/></svg>
<svg style="position:absolute;left:42px;top:1037px" width="26" height="30" viewBox="42 0 26 30"><rect x="45" y="11" width="20" height="15" fill="#f7f7f7"/><rect x="43.5" y="6.5" width="23" height="20" fill="none" stroke="#8a8a8a" stroke-width="1"/><path d="M43.5 10.5H66.5M49.5 4V7.5M60.5 4V7.5" stroke="#8a8a8a" stroke-width="1" fill="none"/><rect x="48.5" y="13.5" width="4" height="4" fill="none" stroke="#62bd6e" stroke-width="1"/></svg>
<span class="t" style="left:166px;top:1036px;font-size:16.3px;color:#000;height:32px;line-height:32px;">Oprydning</span>
<span class="t" style="left:480px;top:1036px;font-size:16.3px;color:#000;height:32px;line-height:32px;">0 dage</span>
<span class="t" style="left:622px;top:1036px;font-size:16.3px;color:#000;height:32px;line-height:32px;">15-05-2025</span>
<span class="t" style="left:764px;top:1036px;font-size:16.3px;color:#000;height:32px;line-height:32px;">15-05-2025</span>
<span class="t" style="left:1048px;top:1036px;font-size:16.3px;color:#000;height:32px;line-height:32px;">0%</span>
<span class="t" style="left:1190px;top:1036px;font-size:16.3px;color:#000;height:32px;line-height:32px;">500</span>
<span class="t" style="left:1474px;top:1036px;font-size:16.3px;color:#000;height:32px;line-height:32px;">0 t</span>
<span class="t" style="left:1616px;top:1036px;font-size:16.3px;color:#000;height:32px;line-height:32px;">0,00 kr.</span>
<div style="left:1938px;top:47px;width:1px;height:1022px;background:#ff0000;"></div>
<svg style="position:absolute;left:1950px;top:311px" width="20" height="45"><path d="M7 15.5H11.4V33" stroke="#418ac9" stroke-width="1.3" fill="none"/><path d="M7.2 33H15L11.4 39.7Z" fill="#418ac9"/></svg>
<svg style="position:absolute;left:1860px;top:443px" width="80" height="363" viewBox="1860 443 80 363"><path d="M1870 458.5H1928.5V640" stroke="#48525d" stroke-width="1.2" fill="none"/><path d="M1924 639.5H1932.5L1928.3 645.8Z" fill="#48525d"/><path d="M1928.5 664V773.5" stroke="#418ac9" stroke-width="1.2" fill="none"/><path d="M1924 773.3H1932.5L1928.3 779.6Z" fill="#418ac9"/></svg>
<div style="left:1783px;top:53px;width:1256px;height:10px;background:#48525d;box-shadow:inset 0 1px 0 #3c4652,inset 0 -1px 0 #3c4652"></div>
<div style="left:1783px;top:55px;width:26px;height:6px;background:#a0a0a0;"></div>
<svg style="position:absolute;left:1783px;top:62px" width="11" height="11"><path d="M0 0H10.3L0 10.3Z" fill="#48525d"/></svg>
<svg style="position:absolute;left:3028px;top:62px" width="11" height="11"><path d="M11 0H0.7L11 10.3Z" fill="#48525d"/></svg>
<div style="left:1928px;top:86px;width:705px;height:10px;background:#48525d;box-shadow:inset 0 1px 0 #3c4652,inset 0 -1px 0 #3c4652"></div>
<svg style="position:absolute;left:1928px;top:95px" width="11" height="11"><path d="M0 0H10.3L0 10.3Z" fill="#48525d"/></svg>
<svg style="position:absolute;left:2622px;top:95px" width="11" height="11"><path d="M11 0H0.7L11 10.3Z" fill="#48525d"/></svg>
<div style="left:1928px;top:121px;width:348px;height:16px;background:#418ac9;border-radius:2px"></div>
<div style="left:1928px;top:152px;width:705px;height:10px;background:#48525d;box-shadow:inset 0 1px 0 #3c4652,inset 0 -1px 0 #3c4652"></div>
<svg style="position:absolute;left:1928px;top:161px" width="11" height="11"><path d="M0 0H10.3L0 10.3Z" fill="#48525d"/></svg>
<svg style="position:absolute;left:2622px;top:161px" width="11" height="11"><path d="M11 0H0.7L11 10.3Z" fill="#48525d"/></svg>
<div style="left:1928px;top:187px;width:464px;height:16px;background:#418ac9;border-radius:2px"></div>
<svg style="position:absolute;left:2612.5px;top:216.5px" width="22" height="22"><path d="M11 2.3000000000000007L20.2 11L11 19.7L1.8000000000000007 11Z" fill="#000"/></svg>
<div style="left:1928px;top:251px;width:870px;height:10px;background:#48525d;box-shadow:inset 0 1px 0 #3c4652,inset 0 -1px 0 #3c4652"></div>
<svg style="position:absolute;left:1928px;top:260px" width="11" height="11"><path d="M0 0H10.3L0 10.3Z" fill="#48525d"/></svg>
<svg style="position:absolute;left:2787px;top:260px" width="11" height="11"><path d="M11 0H0.7L11 10.3Z" fill="#48525d"/></svg>
<div style="left:1928px;top:286px;width:145px;height:16px;background:#418ac9;border-radius:2px"></div>
<div style="left:1928px;top:319px;width:29px;height:16px;background:#418ac9;border-radius:2px"></div>
<div style="left:1957px;top:352px;width:841px;height:16px;background:#418ac9;border-radius:2px"></div>
<div style="left:1783px;top:383px;width:841px;height:10px;background:#48525d;box-shadow:inset 0 1px 0 #3c4652,inset 0 -1px 0 #3c4652"></div>
<div style="left:1783px;top:385px;width:59px;height:6px;background:#a0a0a0;"></div>
<svg style="position:absolute;left:1783px;top:392px" width="11" height="11"><path d="M0 0H10.3L0 10.3Z" fill="#48525d"/></svg>
<svg style="position:absolute;left:2613px;top:392px" width="11" height="11"><path d="M11 0H0.7L11 10.3Z" fill="#48525d"/></svg>
<div style="left:1928px;top:418px;width:145px;height:16px;background:#418ac9;border-radius:2px"></div>
<div style="left:1783px;top:449px;width:87px;height:10px;background:#48525d;box-shadow:inset 0 1px 0 #3c4652,inset 0 -1px 0 #3c4652"></div>
<svg style="position:absolute;left:1783px;top:458px" width="11" height="11"><path d="M0 0H10.3L0 10.3Z" fill="#48525d"/></svg>
<svg style="position:absolute;left:1859px;top:458px" width="11" height="11"><path d="M11 0H0.7L11 10.3Z" fill="#48525d"/></svg>
<div style="left:1783px;top:484px;width:14px;height:16px;background:#418ac9;border-radius:2px"></div>
<div style="left:1812px;top:517px;width:29px;height:16px;background:#418ac9;border-radius:2px"></div>
<div style="left:1812px;top:550px;width:58px;height:16px;background:#418ac9;border-radius:2px"></div>
<div style="left:1783px;top:583px;width:29px;height:16px;background:#418ac9;border-radius:2px"></div>
<div style="left:1812px;top:616px;width:812px;height:16px;background:#418ac9;border-radius:2px"></div>
<div style="left:1812px;top:621px;width:81px;height:5px;background:#0b3561;"></div>
<div style="left:1928px;top:647px;width:754px;height:10px;background:#48525d;box-shadow:inset 0 1px 0 #3c4652,inset 0 -1px 0 #3c4652"></div>
<svg style="position:absolute;left:1928px;top:656px" width="11" height="11"><path d="M0 0H10.3L0 10.3Z" fill="#48525d"/></svg>
<svg style="position:absolute;left:2671px;top:656px" width="11" height="11"><path d="M11 0H0.7L11 10.3Z" fill="#48525d"/></svg>
<div style="left:2131px;top:682px;width:145px;height:16px;background:#418ac9;border-radius:2px"></div>
<div style="left:2247px;top:715px;width:203px;height:16px;background:#418ac9;border-radius:2px"></div>
<div style="left:2537px;top:748px;width:145px;height:16px;background:#418ac9;border-radius:2px"></div>
<div style="left:1928px;top:781px;width:145px;height:16px;background:#418ac9;border-radius:2px"></div>
<div style="left:1928px;top:814px;width:145px;height:16px;background:#418ac9;border-radius:2px"></div>
<div style="left:2537px;top:847px;width:145px;height:16px;background:#418ac9;border-radius:2px"></div>
<div style="left:2131px;top:880px;width:72px;height:16px;background:#418ac9;border-radius:2px"></div>
<svg style="position:absolute;left:3018.5px;top:909.5px" width="22" height="22"><path d="M11 1.4000000000000004L20.8 11L11 20.6L1.1999999999999993 11Z" fill="#48525d"/></svg>
<svg style="position:absolute;left:3018.5px;top:942.5px" width="22" height="22"><path d="M11 2.3000000000000007L20.2 11L11 19.7L1.8000000000000007 11Z" fill="#000"/></svg>
<svg style="position:absolute;left:3018.5px;top:975.5px" width="22" height="22"><path d="M11 2.3000000000000007L20.2 11L11 19.7L1.8000000000000007 11Z" fill="#000"/></svg>
<svg style="position:absolute;left:3018.5px;top:1008.5px" width="22" height="22"><path d="M11 2.3000000000000007L20.2 11L11 19.7L1.8000000000000007 11Z" fill="#000"/></svg>
<svg style="position:absolute;left:3018.5px;top:1041.5px" width="22" height="22"><path d="M11 2.3000000000000007L20.2 11L11 19.7L1.8000000000000007 11Z" fill="#000"/></svg>
</body></html>
